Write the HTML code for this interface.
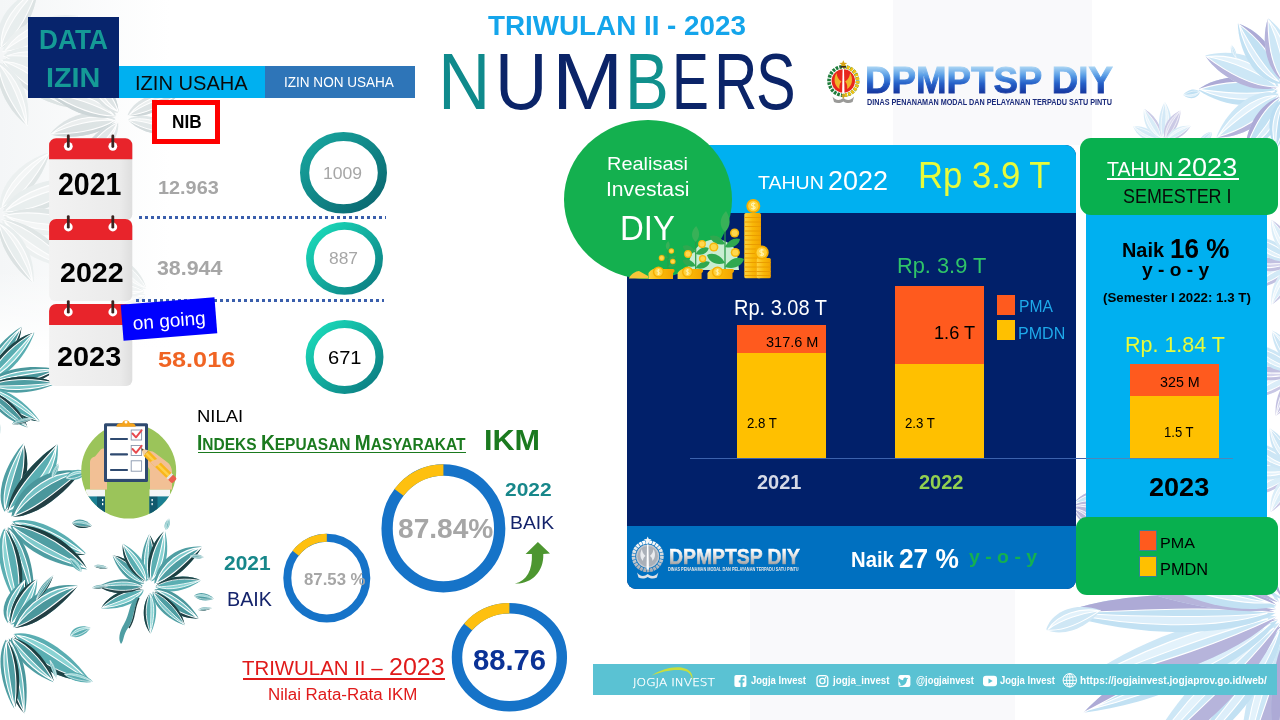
<!DOCTYPE html>
<html lang="id"><head><meta charset="utf-8"><title>Numbers Triwulan II 2023 - DPMPTSP DIY</title>
<style>
html,body{margin:0;padding:0;background:#fff;}
#page{will-change:transform;position:relative;width:1280px;height:720px;overflow:hidden;background:#fff;font-family:"Liberation Sans",sans-serif;}
.t{position:absolute;white-space:nowrap;line-height:1;transform-origin:0 0;display:block;}
.b{position:absolute;}
svg{position:absolute;overflow:visible;}

</style></head>
<body>
<div id="page">
<svg width="1280" height="720" viewBox="0 0 1280 720" style="left:0;top:0"><defs><linearGradient id="bgl" x1="0" x2="1" y1="0" y2="0"><stop offset="0" stop-color="#f4f6f7"/><stop offset="1" stop-color="#fff"/></linearGradient><linearGradient id="bgm" x1="0" x2="0" y1="0" y2="1"><stop offset="0" stop-color="#fff"/><stop offset="1" stop-color="#f1f2f4"/></linearGradient></defs><rect x="0" y="0" width="170" height="350" fill="url(#bgl)"/><linearGradient id="bgf" x1="0" x2="0" y1="0" y2="1"><stop offset="0" stop-color="#fff" stop-opacity="0"/><stop offset="1" stop-color="#fff"/></linearGradient><rect x="0" y="270" width="170" height="81" fill="url(#bgf)"/><rect x="750" y="590" width="265" height="130" fill="#f9f9fb"/><rect x="893" y="0" width="199" height="145" fill="#f9f9fb"/><g opacity="0.8"><g transform="translate(-5 55) rotate(-55)"><path d="M8 0C23.4 -20.5 55.6 -19.9 78 -2.9C62.6 7.1 29 15.5 8 0Z" fill="#e6ecec"/><path d="M10.8 0C29 -13.9 55.6 -13.3 75.9 -2.9C55.6 -6.9 29 -6.5 10.8 0Z" fill="#f1f4f4"/><path d="M8 0C29 15.5 62.6 7.1 78 -2.9C58.4 1.9 30.4 8.5 8 0Z" fill="#d6dede"/><path d="M10.8 0C29 -13.9 55.6 -13.3 75.9 -2.9M10.8 0C29 -6.5 55.6 -6.9 75.9 -2.9M8 0C30.4 8.5 58.4 1.9 78 -2.9" fill="none" stroke="#fff" stroke-width="1.1"/></g><g transform="translate(-5 55) rotate(-25)"><path d="M8 0C26.7 -20.7 65.8 -18.3 93 0.4C74.3 11.4 33.5 18.9 8 0Z" fill="#eaefef"/><path d="M11.4 0C33.5 -13.5 65.8 -11.1 90.5 0.4C65.8 -4 33.5 -5.3 11.4 0Z" fill="#f4f6f6"/><path d="M8 0C33.5 18.9 74.3 11.4 93 0.4C69.2 5.6 35.2 11.2 8 0Z" fill="#dbe2e2"/><path d="M11.4 0C33.5 -13.5 65.8 -11.1 90.5 0.4M11.4 0C33.5 -5.3 65.8 -4 90.5 0.4M8 0C35.2 11.2 69.2 5.6 93 0.4" fill="none" stroke="#fff" stroke-width="1.1"/></g><g transform="translate(-5 55) rotate(5)"><path d="M8 0C27.8 -18.7 69.2 -14.3 98 4.4C78.2 15.4 35 20.9 8 0Z" fill="#e6ecec"/><path d="M11.6 0C35 -11.4 69.2 -7 95.3 4.4C69.2 0 35 -3.3 11.6 0Z" fill="#f1f4f4"/><path d="M8 0C35 20.9 78.2 15.4 98 4.4C72.8 9.7 36.8 13.2 8 0Z" fill="#d6dede"/><path d="M11.6 0C35 -11.4 69.2 -7 95.3 4.4M11.6 0C35 -3.3 69.2 0 95.3 4.4M8 0C36.8 13.2 72.8 9.7 98 4.4" fill="none" stroke="#fff" stroke-width="1.1"/></g><g transform="translate(-5 55) rotate(35)"><path d="M8 0C26.7 -20.3 65.8 -18.5 93 -0.7C74.3 9.8 33.5 17.5 8 0Z" fill="#e6ecec"/><path d="M11.4 0C33.5 -13.4 65.8 -11.6 90.5 -0.7C65.8 -4.9 33.5 -5.6 11.4 0Z" fill="#f1f4f4"/><path d="M8 0C33.5 17.5 74.3 9.8 93 -0.7C69.2 4.4 35.2 10.2 8 0Z" fill="#d6dede"/><path d="M11.4 0C33.5 -13.4 65.8 -11.6 90.5 -0.7M11.4 0C33.5 -5.6 65.8 -4.9 90.5 -0.7M8 0C35.2 10.2 69.2 4.4 93 -0.7" fill="none" stroke="#fff" stroke-width="1.1"/></g><g transform="translate(-5 55) rotate(65)"><path d="M8 0C23.4 -16.9 55.6 -14.9 78 0.4C62.6 9.4 29 15.5 8 0Z" fill="#e6ecec"/><path d="M10.8 0C29 -10.9 55.6 -8.9 75.9 0.4C55.6 -3.2 29 -4.3 10.8 0Z" fill="#f1f4f4"/><path d="M8 0C29 15.5 62.6 9.4 78 0.4C58.4 4.7 30.4 9.2 8 0Z" fill="#d6dede"/><path d="M10.8 0C29 -10.9 55.6 -8.9 75.9 0.4M10.8 0C29 -4.3 55.6 -3.2 75.9 0.4M8 0C30.4 9.2 58.4 4.7 78 0.4" fill="none" stroke="#fff" stroke-width="1.1"/></g></g><g opacity="0.85"><g transform="translate(122 118) rotate(165)"><path d="M6 0C21 18.6 52.2 18.4 74 3.1C59 -5.9 26.4 -13.8 6 0Z" fill="#d9e0e1"/><path d="M8.7 0C26.4 12.7 52.2 12.4 72 3.1C52.2 6.7 26.4 6 8.7 0Z" fill="#e9eded"/><path d="M6 0C26.4 -13.8 59 -5.9 74 3.1C55 -1.3 27.8 -7.5 6 0Z" fill="#c6d0d2"/><path d="M8.7 0C26.4 12.7 52.2 12.4 72 3.1M8.7 0C26.4 6 52.2 6.7 72 3.1M6 0C27.8 -7.5 55 -1.3 74 3.1" fill="none" stroke="#fff" stroke-width="1.1"/></g><g transform="translate(122 118) rotate(200)"><path d="M6 0C21.8 16.7 55 14.6 78 -0.7C62.2 -9.7 27.6 -15.7 6 0Z" fill="#d9e0e1"/><path d="M8.9 0C27.6 10.8 55 8.6 75.8 -0.7C55 2.9 27.6 4.1 8.9 0Z" fill="#e9eded"/><path d="M6 0C27.6 -15.7 62.2 -9.7 78 -0.7C57.8 -5 29 -9.4 6 0Z" fill="#c6d0d2"/><path d="M8.9 0C27.6 10.8 55 8.6 75.8 -0.7M8.9 0C27.6 4.1 55 2.9 75.8 -0.7M6 0C29 -9.4 57.8 -5 78 -0.7" fill="none" stroke="#fff" stroke-width="1.1"/></g><g transform="translate(122 118) rotate(235)"><path d="M6 0C18.8 -14.6 45.4 -13.5 64 -0.7C51.2 6.8 23.4 12.4 6 0Z" fill="#d9e0e1"/><path d="M8.3 0C23.4 -9.7 45.4 -8.5 62.3 -0.7C45.4 -3.7 23.4 -4.1 8.3 0Z" fill="#e9eded"/><path d="M6 0C23.4 12.4 51.2 6.8 64 -0.7C47.8 2.9 24.6 7.1 6 0Z" fill="#c6d0d2"/><path d="M8.3 0C23.4 -9.7 45.4 -8.5 62.3 -0.7M8.3 0C23.4 -4.1 45.4 -3.7 62.3 -0.7M6 0C24.6 7.1 47.8 2.9 64 -0.7" fill="none" stroke="#fff" stroke-width="1.1"/></g><g transform="translate(122 118) rotate(130)"><path d="M6 0C19.2 -13.9 46.8 -11 66 2.6C52.8 10.6 24 14.9 6 0Z" fill="#dde4e5"/><path d="M8.4 0C24 -8.6 46.8 -5.7 64.2 2.6C46.8 -0.6 24 -2.7 8.4 0Z" fill="#ecf0f0"/><path d="M6 0C24 14.9 52.8 10.6 66 2.6C49.2 6.4 25.2 9.3 6 0Z" fill="#ccd5d7"/><path d="M8.4 0C24 -8.6 46.8 -5.7 64.2 2.6M8.4 0C24 -2.7 46.8 -0.6 64.2 2.6M6 0C25.2 9.3 49.2 6.4 66 2.6" fill="none" stroke="#fff" stroke-width="1.1"/></g><g transform="translate(122 118) rotate(15)"><path d="M6 0C17.4 -12.2 41.4 -10.8 58 0.3C46.6 6.8 21.6 11.2 6 0Z" fill="#dde4e5"/><path d="M8.1 0C21.6 -7.9 41.4 -6.5 56.4 0.3C41.4 -2.3 21.6 -3.1 8.1 0Z" fill="#ecf0f0"/><path d="M6 0C21.6 11.2 46.6 6.8 58 0.3C43.4 3.4 22.6 6.6 6 0Z" fill="#ccd5d7"/><path d="M8.1 0C21.6 -7.9 41.4 -6.5 56.4 0.3M8.1 0C21.6 -3.1 41.4 -2.3 56.4 0.3M6 0C22.6 6.6 43.4 3.4 58 0.3" fill="none" stroke="#fff" stroke-width="0.9"/></g><g transform="translate(122 118) rotate(-25)"><path d="M6 0C18.8 -12.7 45.4 -10.6 64 1.3C51.2 8.3 23.4 12.5 6 0Z" fill="#d9e0e1"/><path d="M8.3 0C23.4 -8 45.4 -6 62.3 1.3C45.4 -1.5 23.4 -2.9 8.3 0Z" fill="#e9eded"/><path d="M6 0C23.4 12.5 51.2 8.3 64 1.3C47.8 4.6 24.6 7.6 6 0Z" fill="#c6d0d2"/><path d="M8.3 0C23.4 -8 45.4 -6 62.3 1.3M8.3 0C23.4 -2.9 45.4 -1.5 62.3 1.3M6 0C24.6 7.6 47.8 4.6 64 1.3" fill="none" stroke="#fff" stroke-width="1"/></g></g><g opacity="0.8"><g transform="translate(-5 215) rotate(-50)"><path d="M8 0C24.5 -17.4 59 -14.9 83 1.3C66.5 10.8 30.5 16.8 8 0Z" fill="#eaefef"/><path d="M11 0C30.5 -11.2 59 -8.6 80.8 1.3C59 -2.5 30.5 -4.1 11 0Z" fill="#f4f6f6"/><path d="M8 0C30.5 16.8 66.5 10.8 83 1.3C62 5.8 32 10.1 8 0Z" fill="#dbe2e2"/><path d="M11 0C30.5 -11.2 59 -8.6 80.8 1.3M11 0C30.5 -4.1 59 -2.5 80.8 1.3M8 0C32 10.1 62 5.8 83 1.3" fill="none" stroke="#fff" stroke-width="1.1"/></g><g transform="translate(-5 215) rotate(-22)"><path d="M8 0C27.8 -19.8 69.2 -16.4 98 2.3C78.2 13.3 35 19.8 8 0Z" fill="#e6ecec"/><path d="M11.6 0C35 -12.5 69.2 -9.1 95.3 2.3C69.2 -2.1 35 -4.4 11.6 0Z" fill="#f1f4f4"/><path d="M8 0C35 19.8 78.2 13.3 98 2.3C72.8 7.6 36.8 12.1 8 0Z" fill="#d6dede"/><path d="M11.6 0C35 -12.5 69.2 -9.1 95.3 2.3M11.6 0C35 -4.4 69.2 -2.1 95.3 2.3M8 0C36.8 12.1 72.8 7.6 98 2.3" fill="none" stroke="#fff" stroke-width="1.1"/></g><g transform="translate(-5 215) rotate(6)"><path d="M8 0C28.2 20.9 70.6 18.7 100 0C79.8 -11 35.6 -18.7 8 0Z" fill="#eaefef"/><path d="M11.7 0C35.6 13.7 70.6 11.5 97.2 0C70.6 4.4 35.6 5.5 11.7 0Z" fill="#f4f6f6"/><path d="M8 0C35.6 -18.7 79.8 -11 100 0C74.2 -5.2 37.4 -11 8 0Z" fill="#dbe2e2"/><path d="M11.7 0C35.6 13.7 70.6 11.5 97.2 0M11.7 0C35.6 5.5 70.6 4.4 97.2 0M8 0C37.4 -11 74.2 -5.2 100 0" fill="none" stroke="#fff" stroke-width="1.1"/></g><g transform="translate(-5 215) rotate(34)"><path d="M8 0C26.9 19.2 66.5 17.4 94 0.4C75.1 -9.6 33.8 -16.8 8 0Z" fill="#eaefef"/><path d="M11.4 0C33.8 12.6 66.5 10.8 91.4 0.4C66.5 4.4 33.8 5.2 11.4 0Z" fill="#f4f6f6"/><path d="M8 0C33.8 -16.8 75.1 -9.6 94 0.4C69.9 -4.4 35.5 -9.8 8 0Z" fill="#dbe2e2"/><path d="M11.4 0C33.8 12.6 66.5 10.8 91.4 0.4M11.4 0C33.8 5.2 66.5 4.4 91.4 0.4M8 0C35.5 -9.8 69.9 -4.4 94 0.4" fill="none" stroke="#fff" stroke-width="1.1"/></g><g transform="translate(-5 215) rotate(62)"><path d="M8 0C23.4 -17.2 55.6 -16.6 78 -2.1C62.6 6.4 29 13.4 8 0Z" fill="#e6ecec"/><path d="M10.8 0C29 -11.6 55.6 -11 75.9 -2.1C55.6 -5.5 29 -5.3 10.8 0Z" fill="#f1f4f4"/><path d="M8 0C29 13.4 62.6 6.4 78 -2.1C58.4 2 30.4 7.4 8 0Z" fill="#d6dede"/><path d="M10.8 0C29 -11.6 55.6 -11 75.9 -2.1M10.8 0C29 -5.3 55.6 -5.5 75.9 -2.1M8 0C30.4 7.4 58.4 2 78 -2.1" fill="none" stroke="#fff" stroke-width="1.1"/></g></g><g opacity="0.6"><g transform="translate(150 292) rotate(150)"><path d="M5 0C16 13.1 39 12.6 55 1.5C44 -5 20 -10.3 5 0Z" fill="#eaefef"/><path d="M7 0C20 8.8 39 8.3 53.5 1.5C39 4.1 20 4 7 0Z" fill="#f4f6f6"/><path d="M5 0C20 -10.3 44 -5 55 1.5C41 -1.6 21 -5.7 5 0Z" fill="#dbe2e2"/><path d="M7 0C20 8.8 39 8.3 53.5 1.5M7 0C20 4 39 4.1 53.5 1.5M5 0C21 -5.7 41 -1.6 55 1.5" fill="none" stroke="#fff" stroke-width="0.9"/></g><g transform="translate(150 292) rotate(185)"><path d="M5 0C17.8 -12 44.4 -9.3 63 2.6C50.2 9.6 22.4 13.2 5 0Z" fill="#eaefef"/><path d="M7.3 0C22.4 -7.4 44.4 -4.7 61.3 2.6C44.4 -0.2 22.4 -2.2 7.3 0Z" fill="#f4f6f6"/><path d="M5 0C22.4 13.2 50.2 9.6 63 2.6C46.8 6 23.6 8.3 5 0Z" fill="#dbe2e2"/><path d="M7.3 0C22.4 -7.4 44.4 -4.7 61.3 2.6M7.3 0C22.4 -2.2 44.4 -0.2 61.3 2.6M5 0C23.6 8.3 46.8 6 63 2.6" fill="none" stroke="#fff" stroke-width="1"/></g><g transform="translate(150 292) rotate(220)"><path d="M5 0C16.4 -10.9 40.4 -8.1 57 3C45.6 9.5 20.6 12.5 5 0Z" fill="#e6ecec"/><path d="M7.1 0C20.6 -6.6 40.4 -3.8 55.4 3C40.4 0.4 20.6 -1.8 7.1 0Z" fill="#f1f4f4"/><path d="M5 0C20.6 12.5 45.6 9.5 57 3C42.4 6.1 21.6 8 5 0Z" fill="#d6dede"/><path d="M7.1 0C20.6 -6.6 40.4 -3.8 55.4 3M7.1 0C20.6 -1.8 40.4 0.4 55.4 3M5 0C21.6 8 42.4 6.1 57 3" fill="none" stroke="#fff" stroke-width="0.9"/></g></g><g transform="translate(-18 385) rotate(-62)"><path d="M8 0C21.6 -9.6 50.2 -4.5 70 7.4C56.4 14.4 26.6 15.6 8 0Z" fill="#4f9ea3"/><path d="M10.5 0C26.6 -5 50.2 0.2 68.1 7.4C50.2 4.6 26.6 0.2 10.5 0Z" fill="#7fc9cb"/><path d="M8 0C26.6 15.6 56.4 14.4 70 7.4C52.6 10.8 27.8 10.7 8 0Z" fill="#1d3f42"/><path d="M10.5 0C26.6 -5 50.2 0.2 68.1 7.4M10.5 0C26.6 0.2 50.2 4.6 68.1 7.4M8 0C27.8 10.7 52.6 10.8 70 7.4" fill="none" stroke="#fff" stroke-width="1"/></g><g transform="translate(-18 385) rotate(-40)"><path d="M8 0C22.5 10.9 52.9 6.1 74 -6.6C59.5 -14.1 27.8 -16.1 8 0Z" fill="#5aaeb2"/><path d="M10.6 0C27.8 6 52.9 1.2 72 -6.6C52.9 -3.6 27.8 0.4 10.6 0Z" fill="#8ad3d3"/><path d="M8 0C27.8 -16.1 59.5 -14.1 74 -6.6C55.5 -10.2 29.1 -10.8 8 0Z" fill="#1f4447"/><path d="M10.6 0C27.8 6 52.9 1.2 72 -6.6M10.6 0C27.8 0.4 52.9 -3.6 72 -6.6M8 0C29.1 -10.8 55.5 -10.2 74 -6.6" fill="none" stroke="#fff" stroke-width="1.1"/></g><g transform="translate(-18 385) rotate(-18)"><path d="M8 0C23 -10.2 54.2 -4.6 76 8.2C61 15.7 28.4 16.8 8 0Z" fill="#4a979c"/><path d="M10.7 0C28.4 -5.2 54.2 0.4 74 8.2C54.2 5.2 28.4 0.3 10.7 0Z" fill="#76c2c5"/><path d="M8 0C28.4 16.8 61 15.7 76 8.2C57 11.8 29.8 11.6 8 0Z" fill="#233f44"/><path d="M10.7 0C28.4 -5.2 54.2 0.4 74 8.2M10.7 0C28.4 0.3 54.2 5.2 74 8.2M8 0C29.8 11.6 57 11.8 76 8.2" fill="none" stroke="#fff" stroke-width="1.1"/></g><g transform="translate(-18 385) rotate(4)"><path d="M8 0C22.5 10 52.9 5.3 74 -6.6C59.5 -13.6 27.8 -15.2 8 0Z" fill="#4f9ea3"/><path d="M10.6 0C27.8 5.4 52.9 0.7 72 -6.6C52.9 -3.8 27.8 0.2 10.6 0Z" fill="#7fc9cb"/><path d="M8 0C27.8 -15.2 59.5 -13.6 74 -6.6C55.5 -10 29.1 -10.3 8 0Z" fill="#1d3f42"/><path d="M10.6 0C27.8 5.4 52.9 0.7 72 -6.6M10.6 0C27.8 0.2 52.9 -3.8 72 -6.6M8 0C29.1 -10.3 55.5 -10 74 -6.6" fill="none" stroke="#fff" stroke-width="1"/></g><g transform="translate(-18 385) rotate(26)"><path d="M8 0C21.2 -8.8 48.8 -3.8 68 7.2C54.8 13.7 26 14.6 8 0Z" fill="#5aaeb2"/><path d="M10.4 0C26 -4.5 48.8 0.4 66.2 7.2C48.8 4.6 26 0.3 10.4 0Z" fill="#8ad3d3"/><path d="M8 0C26 14.6 54.8 13.7 68 7.2C51.2 10.3 27.2 10.1 8 0Z" fill="#1f4447"/><path d="M10.4 0C26 -4.5 48.8 0.4 66.2 7.2M10.4 0C26 0.3 48.8 4.6 66.2 7.2M8 0C27.2 10.1 51.2 10.3 68 7.2" fill="none" stroke="#fff" stroke-width="0.9"/></g><g transform="translate(-18 385) rotate(48)"><path d="M8 0C19.9 8.7 44.7 4.8 62 -5.4C50.1 -11.4 24.2 -12.9 8 0Z" fill="#4a979c"/><path d="M10.2 0C24.2 4.7 44.7 0.8 60.4 -5.4C44.7 -3 24.2 0.3 10.2 0Z" fill="#76c2c5"/><path d="M8 0C24.2 -12.9 50.1 -11.4 62 -5.4C46.9 -8.3 25.3 -8.7 8 0Z" fill="#233f44"/><path d="M10.2 0C24.2 4.7 44.7 0.8 60.4 -5.4M10.2 0C24.2 0.3 44.7 -3 60.4 -5.4M8 0C25.3 -8.7 46.9 -8.3 62 -5.4" fill="none" stroke="#fff" stroke-width="0.8"/></g><g transform="translate(-18 385) rotate(68)"><path d="M8 0C18.6 -8.5 40.6 -5.5 56 3.8C45.4 9.3 22.4 11.3 8 0Z" fill="#4f9ea3"/><path d="M9.9 0C22.4 -4.9 40.6 -1.9 54.6 3.8C40.6 1.6 22.4 -0.8 9.9 0Z" fill="#7fc9cb"/><path d="M8 0C22.4 11.3 45.4 9.3 56 3.8C42.6 6.5 23.4 7.4 8 0Z" fill="#1d3f42"/><path d="M9.9 0C22.4 -4.9 40.6 -1.9 54.6 3.8M9.9 0C22.4 -0.8 40.6 1.6 54.6 3.8M8 0C23.4 7.4 42.6 6.5 56 3.8" fill="none" stroke="#fff" stroke-width="0.8"/></g><g transform="translate(4 520) rotate(-84)"><path d="M8 0C23.4 -12.4 55.6 -4.9 78 11.2C62.6 20.7 29 21.8 8 0Z" fill="#4f9ea3"/><path d="M10.8 0C29 -6.2 55.6 1.3 75.9 11.2C55.6 7.4 29 0.9 10.8 0Z" fill="#7fc9cb"/><path d="M8 0C29 21.8 62.6 20.7 78 11.2C58.4 15.8 30.4 15.1 8 0Z" fill="#1d3f42"/><path d="M10.8 0C29 -6.2 55.6 1.3 75.9 11.2M10.8 0C29 0.9 55.6 7.4 75.9 11.2M8 0C30.4 15.1 58.4 15.8 78 11.2" fill="none" stroke="#fff" stroke-width="1.1"/></g><g transform="translate(4 520) rotate(-62)"><path d="M8 0C26.5 25.8 65.1 29.6 92 11.8C73.5 1.3 33.2 -12 8 0Z" fill="#5aaeb2"/><path d="M11.4 0C33.2 18.9 65.1 22.7 89.5 11.8C65.1 16 33.2 11.1 11.4 0Z" fill="#8ad3d3"/><path d="M8 0C33.2 -12 73.5 1.3 92 11.8C68.5 6.7 34.9 -4.6 8 0Z" fill="#1f4447"/><path d="M11.4 0C33.2 18.9 65.1 22.7 89.5 11.8M11.4 0C33.2 11.1 65.1 16 89.5 11.8M8 0C34.9 -4.6 68.5 6.7 92 11.8" fill="none" stroke="#fff" stroke-width="1.1"/></g><g transform="translate(4 520) rotate(-24)"><path d="M8 0C26 -27.5 63.8 -31.8 90 -13.1C72 -2.1 32.6 12.1 8 0Z" fill="#4a979c"/><path d="M11.3 0C32.6 -20.2 63.8 -24.6 87.5 -13.1C63.8 -17.5 32.6 -12.1 11.3 0Z" fill="#76c2c5"/><path d="M8 0C32.6 12.1 72 -2.1 90 -13.1C67 -7.8 34.2 4.4 8 0Z" fill="#233f44"/><path d="M11.3 0C32.6 -20.2 63.8 -24.6 87.5 -13.1M11.3 0C32.6 -12.1 63.8 -17.5 87.5 -13.1M8 0C34.2 4.4 67 -7.8 90 -13.1" fill="none" stroke="#fff" stroke-width="1.1"/></g><g transform="translate(4 520) rotate(14)"><path d="M8 0C25.6 -12.6 62.4 -4.2 88 12.8C70.4 22.8 32 23.4 8 0Z" fill="#5aaeb2"/><path d="M11.2 0C32 -6 62.4 2.4 85.6 12.8C62.4 8.8 32 1.4 11.2 0Z" fill="#8ad3d3"/><path d="M8 0C32 23.4 70.4 22.8 88 12.8C65.6 17.6 33.6 16.4 8 0Z" fill="#1f4447"/><path d="M11.2 0C32 -6 62.4 2.4 85.6 12.8M11.2 0C32 1.4 62.4 8.8 85.6 12.8M8 0C33.6 16.4 65.6 17.6 88 12.8" fill="none" stroke="#fff" stroke-width="1.1"/></g><g transform="translate(4 520) rotate(38)"><path d="M8 0C27.4 13.8 67.8 5.5 96 -12.3C76.6 -22.8 34.4 -24 8 0Z" fill="#4f9ea3"/><path d="M11.5 0C34.4 6.9 67.8 -1.4 93.4 -12.3C67.8 -8.1 34.4 -0.9 11.5 0Z" fill="#7fc9cb"/><path d="M8 0C34.4 -24 76.6 -22.8 96 -12.3C71.4 -17.4 36.2 -16.7 8 0Z" fill="#1d3f42"/><path d="M11.5 0C34.4 6.9 67.8 -1.4 93.4 -12.3M11.5 0C34.4 -0.9 67.8 -8.1 93.4 -12.3M8 0C36.2 -16.7 71.4 -17.4 96 -12.3" fill="none" stroke="#fff" stroke-width="1.1"/></g><g transform="translate(4 520) rotate(62)"><path d="M8 0C24.3 -11.9 58.3 -4.9 82 10.4C65.7 19.4 30.2 20.5 8 0Z" fill="#4a979c"/><path d="M11 0C30.2 -6 58.3 1 79.8 10.4C58.3 6.8 30.2 0.7 11 0Z" fill="#76c2c5"/><path d="M8 0C30.2 20.5 65.7 19.4 82 10.4C61.3 14.7 31.7 14.2 8 0Z" fill="#233f44"/><path d="M11 0C30.2 -6 58.3 1 79.8 10.4M11 0C30.2 0.7 58.3 6.8 79.8 10.4M8 0C31.7 14.2 61.3 14.7 82 10.4" fill="none" stroke="#fff" stroke-width="1.1"/></g><g transform="translate(4 520) rotate(86)"><path d="M8 0C25.2 13.2 61 7.5 86 -7.8C68.8 -16.8 31.4 -19.2 8 0Z" fill="#5aaeb2"/><path d="M11.1 0C31.4 7.3 61 1.6 83.7 -7.8C61 -4.2 31.4 0.6 11.1 0Z" fill="#8ad3d3"/><path d="M8 0C31.4 -19.2 68.8 -16.8 86 -7.8C64.2 -12.1 33 -12.9 8 0Z" fill="#1f4447"/><path d="M11.1 0C31.4 7.3 61 1.6 83.7 -7.8M11.1 0C31.4 0.6 61 -4.2 83.7 -7.8M8 0C33 -12.9 64.2 -12.1 86 -7.8" fill="none" stroke="#fff" stroke-width="1.1"/></g><g transform="translate(66 478) rotate(-15)"><path d="M0 0C4.8 -7.6 15 -6.8 22 0C17.2 4 6.6 6.8 0 0Z" fill="#5aaeb2"/><path d="M0.9 0C6.6 -5 15 -4.2 21.3 0C15 -1.6 6.6 -2 0.9 0Z" fill="#8ad3d3"/><path d="M0.9 0C6.6 -5 15 -4.2 21.3 0M0.9 0C6.6 -2 15 -1.6 21.3 0M0 0C7 4 15.8 1.9 22 0" fill="none" stroke="#fff" stroke-width="0.6"/></g><g transform="translate(72 523) rotate(8)"><path d="M0 0C4.4 -6.6 13.6 -6 20 0C15.6 3.5 6 6 0 0Z" fill="#4f9ea3"/><path d="M0.8 0C6 -4.3 13.6 -3.6 19.4 0C13.6 -1.4 6 -1.8 0.8 0Z" fill="#7fc9cb"/><path d="M0 0C6 6 15.6 3.5 20 0C14.4 1.7 6.4 3.5 0 0Z" fill="#1d3f42"/><path d="M0.8 0C6 -4.3 13.6 -3.6 19.4 0M0.8 0C6 -1.8 13.6 -1.4 19.4 0M0 0C6.4 3.5 14.4 1.7 20 0" fill="none" stroke="#fff" stroke-width="0.5"/></g><g transform="translate(94 566) rotate(8)"><path d="M0 0C3.1 -2.8 9.5 -2.5 14 0C10.9 1.5 4.2 2.5 0 0Z" fill="#4f9ea3"/><path d="M0 0C4.2 2.5 10.9 1.5 14 0C10.1 0.7 4.5 1.5 0 0Z" fill="#1d3f42"/><path d="M0.6 0C4.2 -1.9 9.5 -1.6 13.6 0M0.6 0C4.2 -0.8 9.5 -0.6 13.6 0M0 0C4.5 1.5 10.1 0.7 14 0" fill="none" stroke="#fff" stroke-width="0.5"/></g><g transform="translate(70 558) rotate(50)"><path d="M0 0C4 -5.7 12.2 -5.1 18 0C14 3 5.4 5.1 0 0Z" fill="#5aaeb2"/><path d="M0.7 0C5.4 -3.7 12.2 -3.1 17.5 0C12.2 -1.2 5.4 -1.5 0.7 0Z" fill="#8ad3d3"/><path d="M0.7 0C5.4 -3.7 12.2 -3.1 17.5 0M0.7 0C5.4 -1.5 12.2 -1.2 17.5 0M0 0C5.8 3 13 1.4 18 0" fill="none" stroke="#fff" stroke-width="0.5"/></g><g transform="translate(12 424) rotate(-15)"><path d="M0 0C4.8 -3.8 15 -3.4 22 0C17.2 2 6.6 3.4 0 0Z" fill="#4f9ea3"/><path d="M0 0C6.6 3.4 17.2 2 22 0C15.8 1 7 2 0 0Z" fill="#1d3f42"/><path d="M0.9 0C6.6 -2.5 15 -2.1 21.3 0M0.9 0C6.6 -1 15 -0.8 21.3 0M0 0C7 2 15.8 1 22 0" fill="none" stroke="#fff" stroke-width="0.5"/></g><g transform="translate(52 478) rotate(-65)"><path d="M0 0C3.5 -3.8 10.9 -3.4 16 0C12.5 2 4.8 3.4 0 0Z" fill="#62b3b6"/><path d="M0.6 0C4.8 -2.5 10.9 -2.1 15.5 0M0.6 0C4.8 -1 10.9 -0.8 15.5 0M0 0C5.1 2 11.5 1 16 0" fill="none" stroke="#fff" stroke-width="0.5"/></g><g transform="translate(149 587) rotate(-98)"><path d="M6 0C16.1 -8.7 37.3 -3.7 52 7.4C41.9 13.9 19.8 14.7 6 0Z" fill="#4f9ea3"/><path d="M7.8 0C19.8 -4.4 37.3 0.6 50.6 7.4C37.3 4.8 19.8 0.4 7.8 0Z" fill="#7fc9cb"/><path d="M6 0C19.8 14.7 41.9 13.9 52 7.4C39.1 10.5 20.7 10.2 6 0Z" fill="#1d3f42"/><path d="M7.8 0C19.8 -4.4 37.3 0.6 50.6 7.4M7.8 0C19.8 0.4 37.3 4.8 50.6 7.4M6 0C20.7 10.2 39.1 10.5 52 7.4" fill="none" stroke="#fff" stroke-width="0.9"/></g><g transform="translate(149 587) rotate(-68)"><path d="M6 0C17.4 11.1 41.4 6.5 58 -6.2C46.6 -13.7 21.6 -15.9 6 0Z" fill="#5aaeb2"/><path d="M8.1 0C21.6 6.2 41.4 1.6 56.4 -6.2C41.4 -3.2 21.6 0.6 8.1 0Z" fill="#8ad3d3"/><path d="M6 0C21.6 -15.9 46.6 -13.7 58 -6.2C43.4 -9.8 22.6 -10.6 6 0Z" fill="#1f4447"/><path d="M8.1 0C21.6 6.2 41.4 1.6 56.4 -6.2M8.1 0C21.6 0.6 41.4 -3.2 56.4 -6.2M6 0C22.6 -10.6 43.4 -9.8 58 -6.2" fill="none" stroke="#fff" stroke-width="1.1"/></g><g transform="translate(149 587) rotate(-30)"><path d="M6 0C19.2 -19.4 46.8 -22 66 -8.4C52.8 -0.4 24 9.4 6 0Z" fill="#4f9ea3"/><path d="M8.4 0C24 -14.1 46.8 -16.7 64.2 -8.4C46.8 -11.6 24 -8.2 8.4 0Z" fill="#7fc9cb"/><path d="M6 0C24 9.4 52.8 -0.4 66 -8.4C49.2 -4.6 25.2 3.8 6 0Z" fill="#1d3f42"/><path d="M8.4 0C24 -14.1 46.8 -16.7 64.2 -8.4M8.4 0C24 -8.2 46.8 -11.6 64.2 -8.4M6 0C25.2 3.8 49.2 -4.6 66 -8.4" fill="none" stroke="#fff" stroke-width="1.1"/></g><g transform="translate(149 587) rotate(-2)"><path d="M6 0C16.1 9.1 37.3 5.6 52 -4.6C41.9 -10.6 19.8 -12.5 6 0Z" fill="#5aaeb2"/><path d="M7.8 0C19.8 5.1 37.3 1.6 50.6 -4.6C37.3 -2.2 19.8 0.7 7.8 0Z" fill="#8ad3d3"/><path d="M6 0C19.8 -12.5 41.9 -10.6 52 -4.6C39.1 -7.5 20.7 -8.3 6 0Z" fill="#1f4447"/><path d="M7.8 0C19.8 5.1 37.3 1.6 50.6 -4.6M7.8 0C19.8 0.7 37.3 -2.2 50.6 -4.6M6 0C20.7 -8.3 39.1 -7.5 52 -4.6" fill="none" stroke="#fff" stroke-width="0.8"/></g><g transform="translate(149 587) rotate(24)"><path d="M6 0C17.4 -9.1 41.4 -3.6 58 8.3C46.6 15.3 21.6 16.1 6 0Z" fill="#4a979c"/><path d="M8.1 0C21.6 -4.5 41.4 1 56.4 8.3C41.4 5.5 21.6 0.7 8.1 0Z" fill="#76c2c5"/><path d="M6 0C21.6 16.1 46.6 15.3 58 8.3C43.4 11.7 22.6 11.2 6 0Z" fill="#233f44"/><path d="M8.1 0C21.6 -4.5 41.4 1 56.4 8.3M8.1 0C21.6 0.7 41.4 5.5 56.4 8.3M6 0C22.6 11.2 43.4 11.7 58 8.3" fill="none" stroke="#fff" stroke-width="1"/></g><g transform="translate(149 587) rotate(52)"><path d="M6 0C16.1 9.1 37.3 5.6 52 -4.6C41.9 -10.6 19.8 -12.5 6 0Z" fill="#4f9ea3"/><path d="M7.8 0C19.8 5.1 37.3 1.6 50.6 -4.6C37.3 -2.2 19.8 0.7 7.8 0Z" fill="#7fc9cb"/><path d="M6 0C19.8 -12.5 41.9 -10.6 52 -4.6C39.1 -7.5 20.7 -8.3 6 0Z" fill="#1d3f42"/><path d="M7.8 0C19.8 5.1 37.3 1.6 50.6 -4.6M7.8 0C19.8 0.7 37.3 -2.2 50.6 -4.6M6 0C20.7 -8.3 39.1 -7.5 52 -4.6" fill="none" stroke="#fff" stroke-width="0.8"/></g><g transform="translate(149 587) rotate(80)"><path d="M6 0C14.8 -7.2 33.2 -2.9 46 6.4C37.2 11.9 18 12.6 6 0Z" fill="#5aaeb2"/><path d="M7.6 0C18 -3.6 33.2 0.7 44.8 6.4C33.2 4.2 18 0.5 7.6 0Z" fill="#8ad3d3"/><path d="M6 0C18 12.6 37.2 11.9 46 6.4C34.8 9 18.8 8.7 6 0Z" fill="#1f4447"/><path d="M7.6 0C18 -3.6 33.2 0.7 44.8 6.4M7.6 0C18 0.5 33.2 4.2 44.8 6.4M6 0C18.8 8.7 34.8 9 46 6.4" fill="none" stroke="#fff" stroke-width="0.8"/></g><g transform="translate(149 587) rotate(150)"><path d="M6 0C16.1 -9.6 37.3 -5.5 52 5.5C41.9 12 19.8 13.8 6 0Z" fill="#5aaeb2"/><path d="M7.8 0C19.8 -5.3 37.3 -1.2 50.6 5.5C37.3 2.9 19.8 -0.5 7.8 0Z" fill="#8ad3d3"/><path d="M6 0C19.8 13.8 41.9 12 52 5.5C39.1 8.6 20.7 9.3 6 0Z" fill="#1f4447"/><path d="M7.8 0C19.8 -5.3 37.3 -1.2 50.6 5.5M7.8 0C19.8 -0.5 37.3 2.9 50.6 5.5M6 0C20.7 9.3 39.1 8.6 52 5.5" fill="none" stroke="#fff" stroke-width="0.9"/></g><g transform="translate(149 587) rotate(186)"><path d="M6 0C15.7 9.2 35.9 5.8 50 -4.4C40.3 -10.4 19.2 -12.4 6 0Z" fill="#4a979c"/><path d="M7.8 0C19.2 5.2 35.9 1.8 48.7 -4.4C35.9 -2 19.2 0.8 7.8 0Z" fill="#76c2c5"/><path d="M6 0C19.2 -12.4 40.3 -10.4 50 -4.4C37.7 -7.3 20.1 -8.2 6 0Z" fill="#233f44"/><path d="M7.8 0C19.2 5.2 35.9 1.8 48.7 -4.4M7.8 0C19.2 0.8 35.9 -2 48.7 -4.4M6 0C20.1 -8.2 37.7 -7.3 50 -4.4" fill="none" stroke="#fff" stroke-width="0.8"/></g><g transform="translate(149 587) rotate(216)"><path d="M6 0C15.2 -9.3 34.6 -6 48 4.2C38.8 10.2 18.6 12.3 6 0Z" fill="#4f9ea3"/><path d="M7.7 0C18.6 -5.3 34.6 -2 46.7 4.2C34.6 1.8 18.6 -0.9 7.7 0Z" fill="#7fc9cb"/><path d="M6 0C18.6 12.3 38.8 10.2 48 4.2C36.2 7.1 19.4 8.1 6 0Z" fill="#1d3f42"/><path d="M7.7 0C18.6 -5.3 34.6 -2 46.7 4.2M7.7 0C18.6 -0.9 34.6 1.8 46.7 4.2M6 0C19.4 8.1 36.2 7.1 48 4.2" fill="none" stroke="#fff" stroke-width="0.8"/></g><g transform="translate(149 587) rotate(246)"><path d="M6 0C15.7 9.3 35.9 4.9 50 -6.2C40.3 -12.7 19.2 -14.1 6 0Z" fill="#5aaeb2"/><path d="M7.8 0C19.2 5 35.9 0.6 48.7 -6.2C35.9 -3.6 19.2 0.2 7.8 0Z" fill="#8ad3d3"/><path d="M6 0C19.2 -14.1 40.3 -12.7 50 -6.2C37.7 -9.3 20.1 -9.6 6 0Z" fill="#1f4447"/><path d="M7.8 0C19.2 5 35.9 0.6 48.7 -6.2M7.8 0C19.2 0.2 35.9 -3.6 48.7 -6.2M6 0C20.1 -9.6 37.7 -9.3 50 -6.2" fill="none" stroke="#fff" stroke-width="0.9"/></g><g transform="translate(166 530) rotate(-75)"><path d="M0 0C2.6 -3.8 8.2 -3.4 12 0C9.4 2 3.6 3.4 0 0Z" fill="#62b3b6"/><path d="M0.5 0C3.6 -2.5 8.2 -2.1 11.6 0M0.5 0C3.6 -1 8.2 -0.8 11.6 0M0 0C3.8 2 8.6 1 12 0" fill="none" stroke="#fff" stroke-width="0.5"/></g><g transform="translate(190 556) rotate(5)"><path d="M0 0C3.1 -3.3 9.5 -3 14 0C10.9 1.8 4.2 3 0 0Z" fill="#4f9ea3"/><path d="M0.6 0C4.2 -2.2 9.5 -1.8 13.6 0M0.6 0C4.2 -0.9 9.5 -0.7 13.6 0M0 0C4.5 1.8 10.1 0.8 14 0" fill="none" stroke="#fff" stroke-width="0.5"/></g><g transform="translate(194 596) rotate(8)"><path d="M0 0C4.4 -5.7 13.6 -5.1 20 0C15.6 3 6 5.1 0 0Z" fill="#4f9ea3"/><path d="M0.8 0C6 -3.7 13.6 -3.1 19.4 0C13.6 -1.2 6 -1.5 0.8 0Z" fill="#7fc9cb"/><path d="M0.8 0C6 -3.7 13.6 -3.1 19.4 0M0.8 0C6 -1.5 13.6 -1.2 19.4 0M0 0C6.4 3 14.4 1.4 20 0" fill="none" stroke="#fff" stroke-width="0.5"/></g><g transform="translate(198 610) rotate(-8)"><path d="M0 0C3.1 -2.8 9.5 -2.5 14 0C10.9 1.5 4.2 2.5 0 0Z" fill="#4f9ea3"/><path d="M0 0C4.2 2.5 10.9 1.5 14 0C10.1 0.7 4.5 1.5 0 0Z" fill="#1d3f42"/><path d="M0.6 0C4.2 -1.9 9.5 -1.6 13.6 0M0.6 0C4.2 -0.8 9.5 -0.6 13.6 0M0 0C4.5 1.5 10.1 0.7 14 0" fill="none" stroke="#fff" stroke-width="0.5"/></g><g transform="translate(92 588) rotate(-8)"><path d="M0 0C3.5 -2.8 10.9 -2.5 16 0C12.5 1.5 4.8 2.5 0 0Z" fill="#4f9ea3"/><path d="M0 0C4.8 2.5 12.5 1.5 16 0C11.5 0.7 5.1 1.5 0 0Z" fill="#1d3f42"/><path d="M0.6 0C4.8 -1.9 10.9 -1.6 15.5 0M0.6 0C4.8 -0.8 10.9 -0.6 15.5 0M0 0C5.1 1.5 11.5 0.7 16 0" fill="none" stroke="#fff" stroke-width="0.5"/></g><path d="M139 598C132 610 135 618 128 628C123 635 124 641 121 644C118 640 119 632 124 624C130 614 128 606 136 597Z" fill="#4f9ea3"/><path d="M139 598C133 610 136 618 129 628" fill="none" stroke="#1d3f42" stroke-width="1.4"/><g transform="translate(6 631) rotate(-76)"><path d="M8 0C18.1 -13.4 39.3 -8.9 54 5.5C43.9 14 21.8 17.2 8 0Z" fill="#4f9ea3"/><path d="M9.8 0C21.8 -7.8 39.3 -3.3 52.6 5.5C39.3 2.1 21.8 -1.5 9.8 0Z" fill="#7fc9cb"/><path d="M8 0C21.8 17.2 43.9 14 54 5.5C41.1 9.6 22.7 11.3 8 0Z" fill="#1d3f42"/><path d="M9.8 0C21.8 -7.8 39.3 -3.3 52.6 5.5M9.8 0C21.8 -1.5 39.3 2.1 52.6 5.5M8 0C22.7 11.3 41.1 9.6 54 5.5" fill="none" stroke="#fff" stroke-width="1.1"/></g><g transform="translate(6 631) rotate(-52)"><path d="M8 0C19.4 10.6 43.4 5.5 60 -7.3C48.6 -14.8 23.6 -16.4 8 0Z" fill="#5aaeb2"/><path d="M10.1 0C23.6 5.7 43.4 0.5 58.4 -7.3C43.4 -4.3 23.6 0.1 10.1 0Z" fill="#8ad3d3"/><path d="M8 0C23.6 -16.4 48.6 -14.8 60 -7.3C45.4 -10.9 24.6 -11.1 8 0Z" fill="#1f4447"/><path d="M10.1 0C23.6 5.7 43.4 0.5 58.4 -7.3M10.1 0C23.6 0.1 43.4 -4.3 58.4 -7.3M8 0C24.6 -11.1 45.4 -10.9 60 -7.3" fill="none" stroke="#fff" stroke-width="1.1"/></g><g transform="translate(6 631) rotate(-24)"><path d="M8 0C24.7 -24.1 59.7 -28.3 84 -12.2C67.3 -2.7 30.8 10.1 8 0Z" fill="#4a979c"/><path d="M11 0C30.8 -17.9 59.7 -22 81.7 -12.2C59.7 -16 30.8 -10.8 11 0Z" fill="#76c2c5"/><path d="M8 0C30.8 10.1 67.3 -2.7 84 -12.2C62.7 -7.6 32.3 3.4 8 0Z" fill="#233f44"/><path d="M11 0C30.8 -17.9 59.7 -22 81.7 -12.2M11 0C30.8 -10.8 59.7 -16 81.7 -12.2M8 0C32.3 3.4 62.7 -7.6 84 -12.2" fill="none" stroke="#fff" stroke-width="1.1"/></g><g transform="translate(6 631) rotate(22)"><path d="M8 0C27.4 -13.9 67.8 -4.6 96 14.1C76.6 25.1 34.4 25.7 8 0Z" fill="#5aaeb2"/><path d="M11.5 0C34.4 -6.6 67.8 2.6 93.4 14.1C67.8 9.7 34.4 1.5 11.5 0Z" fill="#8ad3d3"/><path d="M8 0C34.4 25.7 76.6 25.1 96 14.1C71.4 19.4 36.2 18 8 0Z" fill="#1f4447"/><path d="M11.5 0C34.4 -6.6 67.8 2.6 93.4 14.1M11.5 0C34.4 1.5 67.8 9.7 93.4 14.1M8 0C36.2 18 71.4 19.4 96 14.1" fill="none" stroke="#fff" stroke-width="1.1"/></g><g transform="translate(6 631) rotate(52)"><path d="M8 0C21.6 11.2 50.2 6.5 70 -6.2C56.4 -13.7 26.6 -15.8 8 0Z" fill="#4f9ea3"/><path d="M10.5 0C26.6 6.2 50.2 1.6 68.1 -6.2C50.2 -3.2 26.6 0.6 10.5 0Z" fill="#7fc9cb"/><path d="M8 0C26.6 -15.8 56.4 -13.7 70 -6.2C52.6 -9.8 27.8 -10.6 8 0Z" fill="#1d3f42"/><path d="M10.5 0C26.6 6.2 50.2 1.6 68.1 -6.2M10.5 0C26.6 0.6 50.2 -3.2 68.1 -6.2M8 0C27.8 -10.6 52.6 -9.8 70 -6.2" fill="none" stroke="#fff" stroke-width="1.1"/></g><g transform="translate(6 631) rotate(70)"><path d="M8 0C24.7 -10.8 59.7 -3.8 84 10.6C67.3 19.1 30.8 19.8 8 0Z" fill="#4a979c"/><path d="M11 0C30.8 -5.2 59.7 1.8 81.7 10.6C59.7 7.2 30.8 1.1 11 0Z" fill="#76c2c5"/><path d="M8 0C30.8 19.8 67.3 19.1 84 10.6C62.7 14.7 32.3 13.8 8 0Z" fill="#233f44"/><path d="M11 0C30.8 -5.2 59.7 1.8 81.7 10.6M11 0C30.8 1.1 59.7 7.2 81.7 10.6M8 0C32.3 13.8 62.7 14.7 84 10.6" fill="none" stroke="#fff" stroke-width="1.1"/></g><g transform="translate(6 631) rotate(88)"><path d="M8 0C23.4 11.4 55.6 7.1 78 -5.6C62.6 -13.1 29 -15.6 8 0Z" fill="#4f9ea3"/><path d="M10.8 0C29 6.5 55.6 2.2 75.9 -5.6C55.6 -2.6 29 0.9 10.8 0Z" fill="#7fc9cb"/><path d="M8 0C29 -15.6 62.6 -13.1 78 -5.6C58.4 -9.2 30.4 -10.3 8 0Z" fill="#1d3f42"/><path d="M10.8 0C29 6.5 55.6 2.2 75.9 -5.6M10.8 0C29 0.9 55.6 -2.6 75.9 -5.6M8 0C30.4 -10.3 58.4 -9.2 78 -5.6" fill="none" stroke="#fff" stroke-width="1.1"/></g><g transform="translate(70 636) rotate(-22)"><path d="M0 0C4.8 -7.6 15 -6.8 22 0C17.2 4 6.6 6.8 0 0Z" fill="#5aaeb2"/><path d="M0.9 0C6.6 -5 15 -4.2 21.3 0C15 -1.6 6.6 -2 0.9 0Z" fill="#8ad3d3"/><path d="M0.9 0C6.6 -5 15 -4.2 21.3 0M0.9 0C6.6 -2 15 -1.6 21.3 0M0 0C7 4 15.8 1.9 22 0" fill="none" stroke="#fff" stroke-width="0.6"/></g><g transform="translate(64 674) rotate(15)"><path d="M0 0C6.6 -6.6 20.4 -6 30 0C23.4 3.5 9 6 0 0Z" fill="#5aaeb2"/><path d="M1.2 0C9 -4.3 20.4 -3.6 29.1 0C20.4 -1.4 9 -1.8 1.2 0Z" fill="#8ad3d3"/><path d="M1.2 0C9 -4.3 20.4 -3.6 29.1 0M1.2 0C9 -1.8 20.4 -1.4 29.1 0M0 0C9.6 3.5 21.6 1.7 30 0" fill="none" stroke="#fff" stroke-width="0.5"/></g><g transform="translate(50 660) rotate(70)"><path d="M0 0C4.4 -3.3 13.6 -3 20 0C15.6 1.8 6 3 0 0Z" fill="#5aaeb2"/><path d="M0.8 0C6 -2.2 13.6 -1.8 19.4 0M0.8 0C6 -0.9 13.6 -0.7 19.4 0M0 0C6.4 1.8 14.4 0.8 20 0" fill="none" stroke="#fff" stroke-width="0.5"/></g><g transform="translate(36 600) rotate(-55)"><path d="M0 0C6.6 -4.8 20.4 -4.2 30 0C23.4 2.5 9 4.2 0 0Z" fill="#4f9ea3"/><path d="M0 0C9 4.2 23.4 2.5 30 0C21.6 1.2 9.6 2.5 0 0Z" fill="#1d3f42"/><path d="M1.2 0C9 -3.1 20.4 -2.6 29.1 0M1.2 0C9 -1.2 20.4 -1 29.1 0M0 0C9.6 2.5 21.6 1.2 30 0" fill="none" stroke="#fff" stroke-width="0.5"/></g><g opacity="0.95"><g transform="translate(1286 90) rotate(176)"><path d="M8 0C25.6 -19.6 62.4 -14 88 6.4C70.4 18.4 32 23.6 8 0Z" fill="#bfe0f3"/><path d="M11.2 0C32 -11.7 62.4 -6.1 85.6 6.4C62.4 1.6 32 -2.8 11.2 0Z" fill="#dbeefa"/><path d="M8 0C32 23.6 70.4 18.4 88 6.4C65.6 12.2 33.6 15.2 8 0Z" fill="#a9a6d4"/><path d="M11.2 0C32 -11.7 62.4 -6.1 85.6 6.4M11.2 0C32 -2.8 62.4 1.6 85.6 6.4M8 0C33.6 15.2 65.6 12.2 88 6.4" fill="none" stroke="#fff" stroke-width="1.1"/></g><g transform="translate(1286 90) rotate(203)"><path d="M8 0C25.6 22.8 62.4 20.4 88 0C70.4 -12 32 -20.4 8 0Z" fill="#cbe6f6"/><path d="M11.2 0C32 14.9 62.4 12.5 85.6 0C62.4 4.8 32 6 11.2 0Z" fill="#e2f2fb"/><path d="M8 0C32 -20.4 70.4 -12 88 0C65.6 -5.8 33.6 -12 8 0Z" fill="#b3b0da"/><path d="M11.2 0C32 14.9 62.4 12.5 85.6 0M11.2 0C32 6 62.4 4.8 85.6 0M8 0C33.6 -12 65.6 -5.8 88 0" fill="none" stroke="#fff" stroke-width="1.1"/></g><g transform="translate(1286 90) rotate(230)"><path d="M8 0C24.3 -17.9 58.3 -12.8 82 5.9C65.7 16.9 30.2 21.7 8 0Z" fill="#bfe0f3"/><path d="M11 0C30.2 -10.7 58.3 -5.5 79.8 5.9C58.3 1.5 30.2 -2.5 11 0Z" fill="#dbeefa"/><path d="M8 0C30.2 21.7 65.7 16.9 82 5.9C61.3 11.2 31.7 14 8 0Z" fill="#a9a6d4"/><path d="M11 0C30.2 -10.7 58.3 -5.5 79.8 5.9M11 0C30.2 -2.5 58.3 1.5 79.8 5.9M8 0C31.7 14 61.3 11.2 82 5.9" fill="none" stroke="#fff" stroke-width="1.1"/></g><g transform="translate(1286 90) rotate(256)"><path d="M8 0C22.5 19 52.9 17 74 0C59.5 -10 27.8 -17 8 0Z" fill="#cbe6f6"/><path d="M10.6 0C27.8 12.4 52.9 10.4 72 0C52.9 4 27.8 5 10.6 0Z" fill="#e2f2fb"/><path d="M8 0C27.8 -17 59.5 -10 74 0C55.5 -4.8 29.1 -10 8 0Z" fill="#b3b0da"/><path d="M10.6 0C27.8 12.4 52.9 10.4 72 0M10.6 0C27.8 5 52.9 4 72 0M8 0C29.1 -10 55.5 -4.8 74 0" fill="none" stroke="#fff" stroke-width="1.1"/></g><g transform="translate(1286 90) rotate(150)"><path d="M8 0C24.7 18.8 59.7 13.5 84 -6.1C67.3 -17.6 30.8 -22.6 8 0Z" fill="#cbe6f6"/><path d="M11 0C30.8 11.2 59.7 5.9 81.7 -6.1C59.7 -1.5 30.8 2.7 11 0Z" fill="#e2f2fb"/><path d="M8 0C30.8 -22.6 67.3 -17.6 84 -6.1C62.7 -11.6 32.3 -14.5 8 0Z" fill="#b3b0da"/><path d="M11 0C30.8 11.2 59.7 5.9 81.7 -6.1M11 0C30.8 2.7 59.7 -1.5 81.7 -6.1M8 0C32.3 -14.5 62.7 -11.6 84 -6.1" fill="none" stroke="#fff" stroke-width="1.1"/></g><g transform="translate(1286 90) rotate(124)"><path d="M8 0C22.1 -19 51.5 -17 72 0C57.9 10 27.2 17 8 0Z" fill="#bfe0f3"/><path d="M10.6 0C27.2 -12.4 51.5 -10.4 70.1 0C51.5 -4 27.2 -5 10.6 0Z" fill="#dbeefa"/><path d="M8 0C27.2 17 57.9 10 72 0C54.1 4.8 28.5 10 8 0Z" fill="#a9a6d4"/><path d="M10.6 0C27.2 -12.4 51.5 -10.4 70.1 0M10.6 0C27.2 -5 51.5 -4 70.1 0M8 0C28.5 10 54.1 4.8 72 0" fill="none" stroke="#fff" stroke-width="1.1"/></g><g transform="translate(1286 90) rotate(100)"><path d="M8 0C19.4 15.2 43.4 13.6 60 0C48.6 -8 23.6 -13.6 8 0Z" fill="#b8dcf2"/><path d="M10.1 0C23.6 9.9 43.4 8.3 58.4 0C43.4 3.2 23.6 4 10.1 0Z" fill="#d6ecf8"/><path d="M10.1 0C23.6 9.9 43.4 8.3 58.4 0M10.1 0C23.6 4 43.4 3.2 58.4 0M8 0C24.6 -8 45.4 -3.8 60 0" fill="none" stroke="#fff" stroke-width="1.1"/></g></g><g transform="translate(1200 92) rotate(170)"><path d="M0 0C3.7 -6.6 11.6 -6 17 0C13.3 3.5 5.1 6 0 0Z" fill="#bfe0f3"/><path d="M0.7 0C5.1 -4.3 11.6 -3.6 16.5 0C11.6 -1.4 5.1 -1.8 0.7 0Z" fill="#dbeefa"/><path d="M0.7 0C5.1 -4.3 11.6 -3.6 16.5 0M0.7 0C5.1 -1.8 11.6 -1.4 16.5 0M0 0C5.4 3.5 12.2 1.7 17 0" fill="none" stroke="#fff" stroke-width="0.5"/></g><g transform="translate(1236 58) rotate(250)"><path d="M0 0C3.1 -3.3 9.5 -3 14 0C10.9 1.8 4.2 3 0 0Z" fill="#bfe0f3"/><path d="M0.6 0C4.2 -2.2 9.5 -1.8 13.6 0M0.6 0C4.2 -0.9 9.5 -0.7 13.6 0M0 0C4.5 1.8 10.1 0.8 14 0" fill="none" stroke="#fff" stroke-width="0.5"/></g><g transform="translate(1212 132) rotate(140)"><path d="M0 0C4 -5.7 12.2 -5.1 18 0C14 3 5.4 5.1 0 0Z" fill="#cbe6f6"/><path d="M0.7 0C5.4 -3.7 12.2 -3.1 17.5 0M0.7 0C5.4 -1.5 12.2 -1.2 17.5 0M0 0C5.8 3 13 1.4 18 0" fill="none" stroke="#fff" stroke-width="0.5"/></g><g opacity="0.6"><g transform="translate(1163 142) rotate(-150)"><path d="M4 0C10.6 -9.2 24.4 -8.9 34 -1.2C27.4 3.3 13 7 4 0Z" fill="#b8dcf2"/><path d="M5.2 0C13 -6.2 24.4 -5.9 33.1 -1.2C24.4 -3 13 -2.9 5.2 0Z" fill="#d6ecf8"/><path d="M5.2 0C13 -6.2 24.4 -5.9 33.1 -1.2M5.2 0C13 -2.9 24.4 -3 33.1 -1.2M4 0C13.6 3.9 25.6 1 34 -1.2" fill="none" stroke="#fff" stroke-width="0.6"/></g><g transform="translate(1163 142) rotate(-120)"><path d="M4 0C11.5 -9.5 27.1 -8.5 38 -0C30.5 5 14.2 8.5 4 0Z" fill="#bfe0f3"/><path d="M5.4 0C14.2 -6.2 27.1 -5.2 37 -0C27.1 -2 14.2 -2.5 5.4 0Z" fill="#dbeefa"/><path d="M4 0C14.2 8.5 30.5 5 38 -0C28.5 2.4 14.9 5 4 0Z" fill="#a9a6d4"/><path d="M5.4 0C14.2 -6.2 27.1 -5.2 37 -0M5.4 0C14.2 -2.5 27.1 -2 37 -0M4 0C14.9 5 28.5 2.4 38 -0" fill="none" stroke="#fff" stroke-width="0.7"/></g><g transform="translate(1163 142) rotate(-90)"><path d="M4 0C11.9 10.4 28.5 10.3 40 1.8C32.1 -3.2 14.8 -7.6 4 0Z" fill="#b8dcf2"/><path d="M5.4 0C14.8 7.1 28.5 7 38.9 1.8C28.5 3.8 14.8 3.4 5.4 0Z" fill="#d6ecf8"/><path d="M5.4 0C14.8 7.1 28.5 7 38.9 1.8M5.4 0C14.8 3.4 28.5 3.8 38.9 1.8M4 0C15.5 -4.1 29.9 -0.6 40 1.8" fill="none" stroke="#fff" stroke-width="0.7"/></g><g transform="translate(1163 142) rotate(-60)"><path d="M4 0C11 -8.8 25.8 -8.2 36 -0.6C29 3.9 13.6 7.4 4 0Z" fill="#a9a6d4"/><path d="M5.3 0C13.6 -5.9 25.8 -5.3 35 -0.6C25.8 -2.4 13.6 -2.5 5.3 0Z" fill="#c4c2e4"/><path d="M5.3 0C13.6 -5.9 25.8 -5.3 35 -0.6M5.3 0C13.6 -2.5 25.8 -2.4 35 -0.6M4 0C14.2 4.2 27 1.6 36 -0.6" fill="none" stroke="#fff" stroke-width="0.6"/></g><g transform="translate(1163 142) rotate(-30)"><path d="M4 0C10.2 -7.7 23 -6.9 32 -0.1C25.8 3.9 12.4 6.7 4 0Z" fill="#bfe0f3"/><path d="M5.1 0C12.4 -5 23 -4.3 31.2 -0.1C23 -1.7 12.4 -2.1 5.1 0Z" fill="#dbeefa"/><path d="M4 0C12.4 6.7 25.8 3.9 32 -0.1C24.2 1.8 13 3.9 4 0Z" fill="#a9a6d4"/><path d="M5.1 0C12.4 -5 23 -4.3 31.2 -0.1M5.1 0C12.4 -2.1 23 -1.7 31.2 -0.1M4 0C13 3.9 24.2 1.8 32 -0.1" fill="none" stroke="#fff" stroke-width="0.6"/></g></g><g opacity="0.7"><g transform="translate(1296 262) rotate(150)"><path d="M5 0C15.6 13.4 37.6 12 53 0.1C42.4 -6.9 19.4 -11.8 5 0Z" fill="#bfe0f3"/><path d="M6.9 0C19.4 8.8 37.6 7.4 51.6 0.1C37.6 2.9 19.4 3.6 6.9 0Z" fill="#dbeefa"/><path d="M5 0C19.4 -11.8 42.4 -6.9 53 0.1C39.6 -3.2 20.4 -6.9 5 0Z" fill="#a9a6d4"/><path d="M6.9 0C19.4 8.8 37.6 7.4 51.6 0.1M6.9 0C19.4 3.6 37.6 2.9 51.6 0.1M5 0C20.4 -6.9 39.6 -3.2 53 0.1" fill="none" stroke="#fff" stroke-width="1"/></g><g transform="translate(1296 262) rotate(180)"><path d="M5 0C16.4 -13.6 40.4 -11.5 57 1.3C45.6 8.8 20.6 13.4 5 0Z" fill="#a9a6d4"/><path d="M7.1 0C20.6 -8.7 40.4 -6.5 55.4 1.3C40.4 -1.7 20.6 -3.1 7.1 0Z" fill="#c4c2e4"/><path d="M7.1 0C20.6 -8.7 40.4 -6.5 55.4 1.3M7.1 0C20.6 -3.1 40.4 -1.7 55.4 1.3M5 0C21.6 8.1 42.4 4.9 57 1.3" fill="none" stroke="#fff" stroke-width="1.1"/></g><g transform="translate(1296 262) rotate(210)"><path d="M5 0C15.6 -13.6 37.6 -12.6 53 -0.7C42.4 6.3 19.4 11.6 5 0Z" fill="#b8dcf2"/><path d="M6.9 0C19.4 -9 37.6 -7.9 51.6 -0.7C37.6 -3.5 19.4 -3.8 6.9 0Z" fill="#d6ecf8"/><path d="M6.9 0C19.4 -9 37.6 -7.9 51.6 -0.7M6.9 0C19.4 -3.8 37.6 -3.5 51.6 -0.7M5 0C20.4 6.7 39.6 2.7 53 -0.7" fill="none" stroke="#fff" stroke-width="1"/></g><g transform="translate(1296 262) rotate(240)"><path d="M5 0C14.7 -11.5 34.9 -10.4 49 -0.2C39.3 5.8 18.2 10.1 5 0Z" fill="#cbe6f6"/><path d="M6.8 0C18.2 -7.5 34.9 -6.4 47.7 -0.2C34.9 -2.6 18.2 -3.1 6.8 0Z" fill="#e2f2fb"/><path d="M5 0C18.2 10.1 39.3 5.8 49 -0.2C36.7 2.7 19.1 5.9 5 0Z" fill="#b3b0da"/><path d="M6.8 0C18.2 -7.5 34.9 -6.4 47.7 -0.2M6.8 0C18.2 -3.1 34.9 -2.6 47.7 -0.2M5 0C19.1 5.9 36.7 2.7 49 -0.2" fill="none" stroke="#fff" stroke-width="0.8"/></g><g transform="translate(1296 262) rotate(120)"><path d="M5 0C14.7 11.4 34.9 10.2 49 0C39.3 -6 18.2 -10.2 5 0Z" fill="#cbe6f6"/><path d="M6.8 0C18.2 7.5 34.9 6.3 47.7 0C34.9 2.4 18.2 3 6.8 0Z" fill="#e2f2fb"/><path d="M5 0C18.2 -10.2 39.3 -6 49 0C36.7 -2.8 19.1 -6 5 0Z" fill="#b3b0da"/><path d="M6.8 0C18.2 7.5 34.9 6.3 47.7 0M6.8 0C18.2 3 34.9 2.4 47.7 0M5 0C19.1 -6 36.7 -2.8 49 0" fill="none" stroke="#fff" stroke-width="0.8"/></g></g><g opacity="0.7"><g transform="translate(1298 372) rotate(150)"><path d="M5 0C16 14.4 39 14.1 55 2.2C44 -4.8 20 -10.8 5 0Z" fill="#cbe6f6"/><path d="M7 0C20 9.8 39 9.5 53.5 2.2C39 5 20 4.6 7 0Z" fill="#e2f2fb"/><path d="M5 0C20 -10.8 44 -4.8 55 2.2C41 -1.1 21 -5.9 5 0Z" fill="#b3b0da"/><path d="M7 0C20 9.8 39 9.5 53.5 2.2M7 0C20 4.6 39 5 53.5 2.2M5 0C21 -5.9 41 -1.1 55 2.2" fill="none" stroke="#fff" stroke-width="1"/></g><g transform="translate(1298 372) rotate(180)"><path d="M5 0C16.9 -12.9 41.7 -10 59 2.7C47.1 10.2 21.2 14.1 5 0Z" fill="#a9a6d4"/><path d="M7.2 0C21.2 -7.9 41.7 -5.1 57.4 2.7C41.7 -0.3 21.2 -2.4 7.2 0Z" fill="#c4c2e4"/><path d="M7.2 0C21.2 -7.9 41.7 -5.1 57.4 2.7M7.2 0C21.2 -2.4 41.7 -0.3 57.4 2.7M5 0C22.3 8.9 43.9 6.3 59 2.7" fill="none" stroke="#fff" stroke-width="1.1"/></g><g transform="translate(1298 372) rotate(210)"><path d="M5 0C16 -13.5 39 -12.2 55 -0.3C44 6.7 20 11.7 5 0Z" fill="#b8dcf2"/><path d="M7 0C20 -8.8 39 -7.6 53.5 -0.3C39 -3.1 20 -3.7 7 0Z" fill="#d6ecf8"/><path d="M7 0C20 -8.8 39 -7.6 53.5 -0.3M7 0C20 -3.7 39 -3.1 53.5 -0.3M5 0C21 6.8 41 3.1 55 -0.3" fill="none" stroke="#fff" stroke-width="1"/></g><g transform="translate(1298 372) rotate(240)"><path d="M5 0C14.7 10.6 34.9 8.5 49 -1.7C39.3 -7.7 18.2 -11 5 0Z" fill="#b8dcf2"/><path d="M6.8 0C18.2 6.6 34.9 4.6 47.7 -1.7C34.9 0.7 18.2 2.2 6.8 0Z" fill="#d6ecf8"/><path d="M6.8 0C18.2 6.6 34.9 4.6 47.7 -1.7M6.8 0C18.2 2.2 34.9 0.7 47.7 -1.7M5 0C19.1 -6.8 36.7 -4.6 49 -1.7" fill="none" stroke="#fff" stroke-width="0.8"/></g><g transform="translate(1298 372) rotate(120)"><path d="M5 0C14.7 10.1 34.9 7.6 49 -2.6C39.3 -8.6 18.2 -11.5 5 0Z" fill="#a9a6d4"/><path d="M6.8 0C18.2 6.2 34.9 3.7 47.7 -2.6C34.9 -0.2 18.2 1.7 6.8 0Z" fill="#c4c2e4"/><path d="M6.8 0C18.2 6.2 34.9 3.7 47.7 -2.6M6.8 0C18.2 1.7 34.9 -0.2 47.7 -2.6M5 0C19.1 -7.3 36.7 -5.4 49 -2.6" fill="none" stroke="#fff" stroke-width="0.8"/></g></g><g opacity="0.7"><g transform="translate(1296 470) rotate(150)"><path d="M5 0C15.6 14.3 37.6 13.9 53 2C42.4 -5 19.4 -10.9 5 0Z" fill="#cbe6f6"/><path d="M6.9 0C19.4 9.7 37.6 9.3 51.6 2C37.6 4.8 19.4 4.5 6.9 0Z" fill="#e2f2fb"/><path d="M5 0C19.4 -10.9 42.4 -5 53 2C39.6 -1.3 20.4 -6 5 0Z" fill="#b3b0da"/><path d="M6.9 0C19.4 9.7 37.6 9.3 51.6 2M6.9 0C19.4 4.5 37.6 4.8 51.6 2M5 0C20.4 -6 39.6 -1.3 53 2" fill="none" stroke="#fff" stroke-width="1"/></g><g transform="translate(1296 470) rotate(180)"><path d="M5 0C16.4 -13.8 40.4 -11.8 57 1C45.6 8.5 20.6 13.2 5 0Z" fill="#bfe0f3"/><path d="M7.1 0C20.6 -8.8 40.4 -6.8 55.4 1C40.4 -2 20.6 -3.3 7.1 0Z" fill="#dbeefa"/><path d="M5 0C20.6 13.2 45.6 8.5 57 1C42.4 4.6 21.6 8 5 0Z" fill="#a9a6d4"/><path d="M7.1 0C20.6 -8.8 40.4 -6.8 55.4 1M7.1 0C20.6 -3.3 40.4 -2 55.4 1M5 0C21.6 8 42.4 4.6 57 1" fill="none" stroke="#fff" stroke-width="1.1"/></g><g transform="translate(1296 470) rotate(210)"><path d="M5 0C15.6 -13 37.6 -11.4 53 0.5C42.4 7.5 19.4 12.2 5 0Z" fill="#b8dcf2"/><path d="M6.9 0C19.4 -8.4 37.6 -6.8 51.6 0.5C37.6 -2.3 19.4 -3.2 6.9 0Z" fill="#d6ecf8"/><path d="M6.9 0C19.4 -8.4 37.6 -6.8 51.6 0.5M6.9 0C19.4 -3.2 37.6 -2.3 51.6 0.5M5 0C20.4 7.3 39.6 3.9 53 0.5" fill="none" stroke="#fff" stroke-width="1"/></g><g transform="translate(1296 470) rotate(240)"><path d="M5 0C14.7 -12.3 34.9 -12.1 49 -1.9C39.3 4.1 18.2 9.3 5 0Z" fill="#b8dcf2"/><path d="M6.8 0C18.2 -8.4 34.9 -8.1 47.7 -1.9C34.9 -4.3 18.2 -3.9 6.8 0Z" fill="#d6ecf8"/><path d="M6.8 0C18.2 -8.4 34.9 -8.1 47.7 -1.9M6.8 0C18.2 -3.9 34.9 -4.3 47.7 -1.9M5 0C19.1 5.1 36.7 1 49 -1.9" fill="none" stroke="#fff" stroke-width="0.8"/></g><g transform="translate(1296 470) rotate(120)"><path d="M5 0C14.7 11.9 34.9 11.2 49 1C39.3 -5 18.2 -9.7 5 0Z" fill="#cbe6f6"/><path d="M6.8 0C18.2 7.9 34.9 7.2 47.7 1C34.9 3.4 18.2 3.5 6.8 0Z" fill="#e2f2fb"/><path d="M5 0C18.2 -9.7 39.3 -5 49 1C36.7 -1.9 19.1 -5.5 5 0Z" fill="#b3b0da"/><path d="M6.8 0C18.2 7.9 34.9 7.2 47.7 1M6.8 0C18.2 3.5 34.9 3.4 47.7 1M5 0C19.1 -5.5 36.7 -1.9 49 1" fill="none" stroke="#fff" stroke-width="0.8"/></g></g><g opacity="0.8"><g transform="translate(1070 505) rotate(-20)"><path d="M4 0C12.8 10.4 31.2 9.3 44 -0.1C35.2 -5.6 16 -9.4 4 0Z" fill="#bfe0f3"/><path d="M5.6 0C16 6.8 31.2 5.6 42.8 -0.1C31.2 2.1 16 2.7 5.6 0Z" fill="#dbeefa"/><path d="M4 0C16 -9.4 35.2 -5.6 44 -0.1C32.8 -2.7 16.8 -5.5 4 0Z" fill="#a9a6d4"/><path d="M5.6 0C16 6.8 31.2 5.6 42.8 -0.1M5.6 0C16 2.7 31.2 2.1 42.8 -0.1M4 0C16.8 -5.5 32.8 -2.7 44 -0.1" fill="none" stroke="#fff" stroke-width="0.8"/></g><g transform="translate(1070 505) rotate(10)"><path d="M4 0C13.7 -10.4 33.9 -8.2 48 2C38.3 8 17.2 11.2 4 0Z" fill="#a9a6d4"/><path d="M5.8 0C17.2 -6.5 33.9 -4.3 46.7 2C33.9 -0.4 17.2 -2 5.8 0Z" fill="#c4c2e4"/><path d="M5.8 0C17.2 -6.5 33.9 -4.3 46.7 2M5.8 0C17.2 -2 33.9 -0.4 46.7 2M4 0C18.1 7 35.7 4.8 48 2" fill="none" stroke="#fff" stroke-width="0.8"/></g><g transform="translate(1070 505) rotate(40)"><path d="M4 0C12.8 -10.7 31.2 -9.9 44 -0.5C35.2 5 16 9.1 4 0Z" fill="#a9a6d4"/><path d="M5.6 0C16 -7.1 31.2 -6.2 42.8 -0.5C31.2 -2.7 16 -3 5.6 0Z" fill="#c4c2e4"/><path d="M5.6 0C16 -7.1 31.2 -6.2 42.8 -0.5M5.6 0C16 -3 31.2 -2.7 42.8 -0.5M4 0C16.8 5.2 32.8 2.1 44 -0.5" fill="none" stroke="#fff" stroke-width="0.8"/></g></g><g opacity="0.95"><g transform="translate(1292 612) rotate(110)"><path d="M16 0C49 21.9 118 15.4 166 -7.5C133 -21 61 -26.7 16 0Z" fill="#cbe6f6"/><path d="M22 0C61 13 118 6.5 161.5 -7.5C118 -2.1 61 3 22 0Z" fill="#e2f2fb"/><path d="M16 0C61 -26.7 133 -21 166 -7.5C124 -6.2 64 -9.2 16 0Z" fill="#b3b0da"/><path d="M22 0C61 13 118 6.5 161.5 -7.5M22 0C61 3 118 -2.1 161.5 -7.5M16 0C64 -9.2 124 -6.2 166 -7.5" fill="none" stroke="#fff" stroke-width="1.1"/></g><g transform="translate(1292 612) rotate(124)"><path d="M16 0C54.5 -24.1 135 -16.8 191 8.8C152.5 23.8 68.5 29.9 16 0Z" fill="#bfe0f3"/><path d="M23 0C68.5 -14.2 135 -6.9 185.8 8.8C135 2.8 68.5 -3.1 23 0Z" fill="#dbeefa"/><path d="M16 0C68.5 29.9 152.5 23.8 191 8.8C142 7.2 72 10.4 16 0Z" fill="#a9a6d4"/><path d="M23 0C68.5 -14.2 135 -6.9 185.8 8.8M23 0C68.5 -3.1 135 2.8 185.8 8.8M16 0C72 10.4 142 7.2 191 8.8" fill="none" stroke="#fff" stroke-width="1.1"/></g><g transform="translate(1292 612) rotate(138)"><path d="M16 0C60 24.4 152 15.2 216 -12C172 -28 76 -33.2 16 0Z" fill="#cbe6f6"/><path d="M24 0C76 13.8 152 4.6 210 -12C152 -5.6 76 2 24 0Z" fill="#e2f2fb"/><path d="M16 0C76 -33.2 172 -28 216 -12C160 -10.4 80 -12.4 16 0Z" fill="#b3b0da"/><path d="M24 0C76 13.8 152 4.6 210 -12M24 0C76 2 152 -5.6 210 -12M16 0C80 -12.4 160 -10.4 216 -12" fill="none" stroke="#fff" stroke-width="1.1"/></g><g transform="translate(1292 612) rotate(151)"><path d="M16 0C63.3 -24.9 162.2 -15.2 231 12.9C183.7 29.4 80.5 34.5 16 0Z" fill="#bfe0f3"/><path d="M24.6 0C80.5 -14 162.2 -4.3 224.6 12.9C162.2 6.3 80.5 -1.8 24.6 0Z" fill="#dbeefa"/><path d="M16 0C80.5 34.5 183.7 29.4 231 12.9C170.8 11.2 84.8 13.1 16 0Z" fill="#a9a6d4"/><path d="M24.6 0C80.5 -14 162.2 -4.3 224.6 12.9M24.6 0C80.5 -1.8 162.2 6.3 224.6 12.9M16 0C84.8 13.1 170.8 11.2 231 12.9" fill="none" stroke="#fff" stroke-width="1.1"/></g><g transform="translate(1292 612) rotate(164)"><path d="M16 0C64.8 24.7 167 14.7 238 -13.3C189.2 -29.8 82.6 -34.7 16 0Z" fill="#cbe6f6"/><path d="M24.9 0C82.6 13.8 167 3.8 231.3 -13.3C167 -6.7 82.6 1.6 24.9 0Z" fill="#e2f2fb"/><path d="M16 0C82.6 -34.7 189.2 -29.8 238 -13.3C175.8 -11.7 87 -13.3 16 0Z" fill="#b3b0da"/><path d="M24.9 0C82.6 13.8 167 3.8 231.3 -13.3M24.9 0C82.6 1.6 167 -6.7 231.3 -13.3M16 0C87 -13.3 175.8 -11.7 238 -13.3" fill="none" stroke="#fff" stroke-width="1.1"/></g><g transform="translate(1292 612) rotate(177)"><path d="M16 0C63.3 -25 162.2 -16.4 231 10.8C183.7 26.8 80.5 32.6 16 0Z" fill="#bfe0f3"/><path d="M24.6 0C80.5 -14.5 162.2 -5.9 224.6 10.8C162.2 4.3 80.5 -2.6 24.6 0Z" fill="#dbeefa"/><path d="M16 0C80.5 32.6 183.7 26.8 231 10.8C170.8 9.2 84.8 11.8 16 0Z" fill="#a9a6d4"/><path d="M24.6 0C80.5 -14.5 162.2 -5.9 224.6 10.8M24.6 0C80.5 -2.6 162.2 4.3 224.6 10.8M16 0C84.8 11.8 170.8 9.2 231 10.8" fill="none" stroke="#fff" stroke-width="1.1"/></g><g transform="translate(1292 612) rotate(190)"><path d="M16 0C61.1 34.6 155.4 36.6 221 10.2C175.9 -5.2 77.5 -21.2 16 0Z" fill="#cbe6f6"/><path d="M24.2 0C77.5 24.3 155.4 26.4 214.8 10.2C155.4 16.4 77.5 12.9 24.2 0Z" fill="#e2f2fb"/><path d="M16 0C77.5 -21.2 175.9 -5.2 221 10.2C163.6 11.8 81.6 -1.1 16 0Z" fill="#b3b0da"/><path d="M24.2 0C77.5 24.3 155.4 26.4 214.8 10.2M24.2 0C77.5 12.9 155.4 16.4 214.8 10.2M16 0C81.6 -1.1 163.6 11.8 221 10.2" fill="none" stroke="#fff" stroke-width="1.1"/></g><g transform="translate(1292 612) rotate(203)"><path d="M16 0C56.7 -32.1 141.8 -34.9 201 -11.1C160.3 2.9 71.5 18.2 16 0Z" fill="#bfe0f3"/><path d="M23.4 0C71.5 -22.9 141.8 -25.7 195.4 -11.1C141.8 -16.7 71.5 -12.6 23.4 0Z" fill="#dbeefa"/><path d="M16 0C71.5 18.2 160.3 2.9 201 -11.1C149.2 -12.5 75.2 0.1 16 0Z" fill="#a9a6d4"/><path d="M23.4 0C71.5 -22.9 141.8 -25.7 195.4 -11.1M23.4 0C71.5 -12.6 141.8 -16.7 195.4 -11.1M16 0C75.2 0.1 149.2 -12.5 201 -11.1" fill="none" stroke="#fff" stroke-width="1.1"/></g><g transform="translate(1292 612) rotate(217)"><path d="M16 0C51.2 22.8 124.8 20.4 176 0C140.8 -12 64 -20.4 16 0Z" fill="#cbe6f6"/><path d="M22.4 0C64 14.9 124.8 12.5 171.2 0C124.8 4.8 64 6 22.4 0Z" fill="#e2f2fb"/><path d="M16 0C64 -20.4 140.8 -12 176 0C131.2 1.2 67.2 -4.8 16 0Z" fill="#b3b0da"/><path d="M22.4 0C64 14.9 124.8 12.5 171.2 0M22.4 0C64 6 124.8 4.8 171.2 0M16 0C67.2 -4.8 131.2 1.2 176 0" fill="none" stroke="#fff" stroke-width="1.1"/></g><g transform="translate(1292 612) rotate(232)"><path d="M16 0C44.6 -19 104.4 -17 146 0C117.4 10 55 17 16 0Z" fill="#bfe0f3"/><path d="M21.2 0C55 -12.4 104.4 -10.4 142.1 0C104.4 -4 55 -5 21.2 0Z" fill="#dbeefa"/><path d="M16 0C55 17 117.4 10 146 0C109.6 -1 57.6 4 16 0Z" fill="#a9a6d4"/><path d="M21.2 0C55 -12.4 104.4 -10.4 142.1 0M21.2 0C55 -5 104.4 -4 142.1 0M16 0C57.6 4 109.6 -1 146 0" fill="none" stroke="#fff" stroke-width="1.1"/></g><g transform="translate(1292 612) rotate(96)"><path d="M16 0C44.6 -21.8 104.4 -19.6 146 0C117.4 11.5 55 19.6 16 0Z" fill="#bfe0f3"/><path d="M21.2 0C55 -14.3 104.4 -12 142.1 0C104.4 -4.6 55 -5.8 21.2 0Z" fill="#dbeefa"/><path d="M16 0C55 19.6 117.4 11.5 146 0C109.6 -1.2 57.6 4.6 16 0Z" fill="#a9a6d4"/><path d="M21.2 0C55 -14.3 104.4 -12 142.1 0M21.2 0C55 -5.8 104.4 -4.6 142.1 0M16 0C57.6 4.6 109.6 -1.2 146 0" fill="none" stroke="#fff" stroke-width="1.1"/></g></g><g transform="translate(1046 630) rotate(-20)"><path d="M0 0C12.8 -17.1 39.4 -15.3 58 0C45.2 9 17.4 15.3 0 0Z" fill="#cfe7f5"/><path d="M2.3 0C17.4 -11.2 39.4 -9.4 56.3 0C39.4 -3.6 17.4 -4.5 2.3 0Z" fill="#e3f2fb"/><path d="M2.3 0C17.4 -11.2 39.4 -9.4 56.3 0M2.3 0C17.4 -4.5 39.4 -3.6 56.3 0M0 0C18.6 9 41.8 4.3 58 0" fill="none" stroke="#fff" stroke-width="1.1"/></g></svg>
<!-- ===== DATA IZIN block ===== -->
<div class="b" style="left:118px;top:66.100px;width:148px;height:31.700px;background:#00b0f0"></div>
<div class="b" style="left:264.900px;top:66.100px;width:150.100px;height:31.700px;background:#2e75b8"></div>
<div class="b" style="left:27.900px;top:16.900px;width:91px;height:80.900px;background:#07246c"></div>
<div class="b" style="left:152px;top:100px;width:68px;height:43.5px;box-sizing:border-box;border:5px solid #fe0000;background:#fff"></div>
<!-- dotted separators -->
<div class="b" style="left:138.5px;top:216px;width:247.800px;height:3px;background:repeating-linear-gradient(90deg,#3a5eac 0 3px,transparent 3px 6px)"></div>
<div class="b" style="left:135.5px;top:298.900px;width:248px;height:3px;background:repeating-linear-gradient(90deg,#3a5eac 0 3px,transparent 3px 6px)"></div>

<!-- calendars + rings -->
<svg width="1280" height="720" viewBox="0 0 1280 720" style="left:0;top:0">
  <defs>
    <linearGradient id="rg1" x1="0" y1="0" x2="1" y2="1"><stop offset="0.1" stop-color="#17a19b"/><stop offset=".9" stop-color="#0b6b73"/></linearGradient>
    <linearGradient id="rg2" x1="0" y1="0" x2="1" y2="1"><stop offset="0.12" stop-color="#19d3b5"/><stop offset=".88" stop-color="#0d8587"/></linearGradient>
    <linearGradient id="calb" x1="0" y1="0" x2="1" y2="0"><stop offset="0" stop-color="#f2f2f2"/><stop offset=".85" stop-color="#ebebeb"/><stop offset="1" stop-color="#dedede"/></linearGradient>
    <g id="cal">
      <rect x="0" y="0" width="83.200" height="82" rx="6" fill="url(#calb)"/>
      <path d="M0 21V7a7 7 0 0 1 7-7h69.200a7 7 0 0 1 7 7v14z" fill="#e8242b"/>
      <circle cx="19.200" cy="8" r="4.400" fill="#fff"/><circle cx="63.700" cy="8" r="4.400" fill="#fff"/>
      <rect x="17.800" y="-3.800" width="2.800" height="13.400" rx="1.400" fill="#3b2320"/><rect x="62.300" y="-3.800" width="2.800" height="13.400" rx="1.400" fill="#3b2320"/>
    </g>
  </defs>
  <use href="#cal" x="49.100" y="138.300"/>
  <use href="#cal" x="49.100" y="219"/>
  <use href="#cal" x="49.100" y="304"/>
  <ellipse cx="343.5" cy="172.700" rx="38.900" ry="36.200" fill="none" stroke="url(#rg1)" stroke-width="9.200"/>
  <ellipse cx="344.500" cy="258.400" rx="34.600" ry="32.600" fill="none" stroke="url(#rg2)" stroke-width="7.700"/>
  <ellipse cx="344.600" cy="357" rx="34.900" ry="33" fill="none" stroke="url(#rg2)" stroke-width="8"/>
</svg>
<!-- on going -->
<div class="b" style="left:122.200px;top:300.850px;width:94px;height:35.700px;background:#0000fe;transform:rotate(-4.500deg);transform-origin:50% 50%;color:#fff;font-size:19px;line-height:35.700px;text-align:center;white-space:nowrap;padding-top:1.500px;box-sizing:border-box">on going</div>

<!-- ===== main panel ===== -->
<div class="b" style="left:626.5px;top:144.800px;width:449.500px;height:443.800px;border-radius:0 11px 9px 9px;overflow:hidden;background:#01206a">
  <div class="b" style="left:0;top:0;width:450px;height:68px;background:#00b0f0"></div>
  <div class="b" style="left:0;top:381.200px;width:450px;height:63px;background:#0070c0"></div>
</div>
<!-- right panel -->
<div class="b" style="left:1085.600px;top:200px;width:181.400px;height:330px;background:#00b0f0"></div>
<div class="b" style="left:1079.900px;top:138px;width:198.400px;height:76.500px;border-radius:11px;background:#08b04f"></div>
<div class="b" style="left:1075.800px;top:516.700px;width:202.500px;height:78.400px;border-radius:11px;background:#08b04f"></div>
<div class="b" style="left:1107px;top:178.300px;width:132px;height:1.700px;background:#fff"></div>
<!-- green circle -->
<div class="b" style="left:563.7px;top:119.5px;width:168.3px;height:159.6px;border-radius:50%;background:#14b04f"></div>

<!-- bars -->
<div class="b" style="left:737.200px;top:324.800px;width:89.100px;height:133.200px;background:#ffc000"></div>
<div class="b" style="left:737.200px;top:324.800px;width:89.100px;height:28.700px;background:#ff5a1e"></div>
<div class="b" style="left:895.200px;top:286px;width:89.100px;height:172px;background:#ffc000"></div>
<div class="b" style="left:895.200px;top:286px;width:89.100px;height:77.600px;background:#ff5a1e"></div>
<div class="b" style="left:1130px;top:363.500px;width:89px;height:94.500px;background:#ffc000"></div>
<div class="b" style="left:1130px;top:363.500px;width:89px;height:32.500px;background:#ff5a1e"></div>
<div class="b" style="left:690px;top:457.6px;width:396px;height:1px;background:#3c62ad"></div>
<div class="b" style="left:1085.600px;top:457.600px;width:147.400px;height:1px;background:#4f86b8"></div>
<!-- legends -->
<div class="b" style="left:997px;top:295px;width:17.700px;height:19.700px;background:#ff5a1e"></div>
<div class="b" style="left:997px;top:320.300px;width:17.700px;height:20.200px;background:#ffc000"></div>
<div class="b" style="left:1140px;top:530.7px;width:16px;height:19px;background:#ff5a1e;box-shadow:0 0 0 .7px #4a6fb5"></div>
<div class="b" style="left:1140px;top:556.8px;width:16px;height:19px;background:#ffc000;box-shadow:0 0 0 .7px #4a6fb5"></div>

<!-- ===== IKM ===== -->
<div class="b" style="left:198px;top:452px;width:268px;height:1.400px;background:#1b7a1f"></div>
<div class="b" style="left:242.5px;top:678.300px;width:202px;height:2px;background:#e01a1a"></div>
<svg width="1280" height="720" viewBox="0 0 1280 720" style="left:0;top:0">
  <!-- donuts: blue ring + yellow arc -->
  <g fill="none">
    <ellipse cx="443.4" cy="528.4" rx="56.3" ry="58.4" stroke="#1673c8" stroke-width="11.3"/>
    <path d="M443.4 470A56.3 58.4 0 0 0 399 492.400" stroke="#fec00f" stroke-width="11.3"/>
    <ellipse cx="326.8" cy="578.1" rx="39.500" ry="40.400" stroke="#1673c8" stroke-width="8"/>
    <path d="M326.8 537.700A39.500 40.400 0 0 0 295.700 553.200" stroke="#fec00f" stroke-width="8"/>
    <ellipse cx="509.400" cy="657.200" rx="52.400" ry="49" stroke="#1673c8" stroke-width="10.500"/>
    <path d="M509.400 608.200A52.400 49 0 0 0 468.100 627" stroke="#fec00f" stroke-width="10.500"/>
  </g>
  <!-- green curved arrow -->
  <path d="M514.900 583.500C527 581 532.500 570 531.900 554L525.600 554 537.900 541.900 550 553.500 543.300 554C544 572 531 584.500 514.900 583.500Z" fill="#4d9630"/>
</svg>

<!-- ===== bottom bar ===== -->
<div class="b" style="left:593px;top:663.800px;width:684px;height:31.200px;background:#5ac2d3"></div>

<svg width="1280" height="720" viewBox="0 0 1280 720" style="left:0;top:0">
<defs>
  <clipPath id="cpc"><circle cx="128.7" cy="471" r="47.5"/></clipPath>
  <linearGradient id="gold" x1="0" x2="1" y1="0" y2="0"><stop offset="0" stop-color="#ffd23d"/><stop offset=".5" stop-color="#f9b807"/><stop offset="1" stop-color="#f2a200"/></linearGradient>
  <linearGradient id="silv" x1="0" x2="0" y1="0" y2="1"><stop offset="0" stop-color="#fdfdfd"/><stop offset="1" stop-color="#a9aeb6"/></linearGradient>
  <g id="coin"><circle r="4.6" fill="#f7b80d"/><circle r="3.1" fill="#ffd84d"/></g>
  <g id="bigcoin"><circle r="7" fill="#f5ae00"/><circle r="5.2" fill="#ffd23d"/><path d="M1.8-2.2C.6-3.4-1.9-2.9-1.9-1.3C-1.9.6 1.9-.1 1.9 1.6C1.9 3.1-.8 3.4-2 2.1M0-3.8V3.8" stroke="#fff3b0" stroke-width="1.1" fill="none"/></g>
</defs>

<!-- ===== clipboard icon ===== -->
<circle cx="128.7" cy="471" r="47.5" fill="#9bc45a"/>
<g clip-path="url(#cpc)">
  <!-- sleeves -->
  <path d="M86 496h19v30H80z" fill="#1a7f93"/><path d="M97 496h8v30h-8z" fill="#11596e"/>
  <path d="M149.5 496h20.5l6 30h-26.5z" fill="#1a7f93"/><path d="M149.5 496h8v30h-8z" fill="#11596e"/>
  <rect x="86" y="489.4" width="19" height="7" fill="#f4f6f7"/><rect x="149.5" y="489.4" width="20.5" height="7" fill="#f4f6f7"/>
  <rect x="102" y="499" width="1.3" height="2.2" fill="#fff"/><rect x="102" y="503" width="1.3" height="2.2" fill="#fff"/>
  <rect x="151.5" y="499" width="1.3" height="2.2" fill="#fff"/><rect x="151.5" y="503" width="1.3" height="2.2" fill="#fff"/>
  <!-- hands -->
  <path d="M90 489.6V462c0-3 2-5 5-5.6l5-6c2-2.6 6-2.6 7 .6v38.600z" fill="#f2c095"/>
  <path d="M150 489.600V470l-6-9 1-9c4-2 8-1 10 1l12 9c3 2 5 6 5 10v17.600z" fill="#f2c095"/>
</g>
<!-- board -->
<rect x="104" y="423.3" width="44" height="58.600" rx="1.5" fill="#2f4a70"/>
<rect x="107" y="426.300" width="38" height="52.6" fill="#fff"/>
<path d="M116.300 426.800c0-2 1.700-3.600 3.700-3.600h2.200a3.900 3.900 0 0 1 7.600 0h2.200c2 0 3.800 1.600 3.800 3.600z" fill="#f6a41c"/><circle cx="126" cy="421.900" r="1.500" fill="#fff"/>
<g stroke="#2f4a70" stroke-width="2.200" stroke-linecap="round"><path d="M111 439H127M111 454.400H127M111 470H127"/></g>
<g fill="#fff" stroke="#8796ad" stroke-width=".9"><rect x="131.200" y="430" width="10.400" height="10"/><rect x="131.200" y="445.500" width="10.400" height="10"/><rect x="131.200" y="460.800" width="10.400" height="10.400"/></g>
<g fill="none" stroke="#e8484d" stroke-width="1.900" stroke-linecap="round" stroke-linejoin="round"><path d="M132.500 433.500l3.500 3.800 5.600-7M132.500 449l3.500 3.800 5.600-7"/></g>
<!-- pencil -->
<g transform="translate(141 448.300) rotate(44.300)">
  <path d="M0 0l7-3.600v7.200z" fill="#f3cfa0"/><path d="M0 0l2.600-1.300v2.600z" fill="#5a4a3a"/>
  <rect x="7" y="-3.600" width="32" height="7.200" fill="#f9b61c"/><rect x="7" y="-1.200" width="32" height="2.400" fill="#fdd04a"/>
  <rect x="39" y="-3.600" width="2.500" height="7.200" fill="#e6e6e6"/><path d="M41.500-3.600h3.500a2 2 0 0 1 2 2v3.200a2 2 0 0 1-2 2h-3.500z" fill="#ea5f4e"/>
</g>
<path d="M150 462l7-3c3-1 5 0 6 2l-8 6z" fill="#f2c095"/>

<!-- ===== header emblem ===== -->
<g>
  <circle cx="843.300" cy="81" r="14.300" fill="none" stroke="#1f7d3c" stroke-width="3.600" stroke-dasharray="2.600 1.100"/>
  <path d="M843.300 66.700a14.300 14.300 0 0 1 0 28.600" fill="none" stroke="#f3c313" stroke-width="3.600" stroke-dasharray="2.600 1.100"/>
  <circle cx="843.300" cy="81" r="11.700" fill="#e8261c"/>
  <path d="M839.500 89c-5-3-6.500-10-3-16 .5 4 2 6.500 5 8.500-2 2-2.500 4.500-2 7.500zM847.100 89c5-3 6.500-10 3-16-.5 4-2 6.500-5 8.500 2 2 2.500 4.500 2 7.500z" fill="#f0b429"/>
  <path d="M842.600 69h1.400l.5 25h-2.400z" fill="#fff"/>
  <path d="M843.300 60.300l1.100 2.500 2.700.2-2.100 1.700.7 2.600-2.400-1.500-2.400 1.500.7-2.600-2.100-1.700 2.700-.2z" fill="#d9a514"/>
  <rect x="840.600" y="66" width="5.400" height="1.700" fill="#3a2a1a"/>
  <path d="M832.500 96.500c3 4 7 4.500 10.800 1.500 3.800 3 7.800 2.500 10.800-1.500l-1.500 5.500c-3 1.500-6 1.500-9.300-.5-3.300 2-6.300 2-9.300.5z" fill="#9a9a98"/>
  <path d="M841.300 95.500l2 3.200 2-3.200-2-2.300z" fill="#c9a227"/>
</g>
<!-- ===== footer emblem (silver) ===== -->
<g>
  <circle cx="647.700" cy="556.200" r="14.200" fill="none" stroke="url(#silv)" stroke-width="3.600" stroke-dasharray="2.800 .6"/>
  <circle cx="647.700" cy="556.200" r="11.600" fill="#c3c7cd"/>
  <circle cx="647.700" cy="556.200" r="10.200" fill="#aab0b8"/>
  <path d="M643 561c-3-3-3.500-8-1-12 0 3 1.500 5 3.500 7-2 1-2.500 3-2.500 5zM652.400 561c3-3 3.500-8 1-12 0 3-1.500 5-3.500 7 2 1 2.500 3 2.500 5z" fill="#e9ebee"/>
  <path d="M647 544.500h1.400l.5 25h-2.400z" fill="#fff"/>
  <path d="M647.700 536.500l1.100 2.500 2.700.2-2.100 1.700.7 2.600-2.400-1.500-2.400 1.500.7-2.600-2.100-1.700 2.700-.2z" fill="#f4f5f6"/>
  <path d="M637 572.500c3 4 7 4.500 10.700 1.500 3.700 3 7.700 2.500 10.700-1.500l-1.500 5c-3 1.500-6 1.500-9.200-.5-3.200 2-6.200 2-9.200.5z" fill="#dfe2e6"/>
</g>

<!-- ===== coins and plants ===== -->
<g>
  <path d="M688 270c0-14 8-26 22-30 12-3 24 4 27 14l2 16z" fill="#c9edd2"/>
  <!-- tall stack -->
  <rect x="744.300" y="213" width="16.700" height="65.200" rx="1.500" fill="url(#gold)"/>
  <path d="M744.300 217.500h16.700M744.300 222h16.700M744.300 226.500h16.700M744.300 231h16.700M744.300 235.500h16.700M744.300 240h16.700M744.300 244.500h16.700M744.300 249h16.700M744.300 253.500h16.700M744.300 258h16.700M744.300 262.500h16.700M744.300 267h16.700M744.300 271.500h16.700M744.300 275.500h16.700" stroke="#e89a00" stroke-width=".9"/>
  <rect x="756.800" y="258" width="14" height="20.200" rx="1.500" fill="url(#gold)"/>
  <path d="M756.800 262.500h14M756.800 267h14M756.800 271.500h14M756.800 275.500h14" stroke="#e89a00" stroke-width=".9"/>
  <use href="#bigcoin" x="753.300" y="206"/><use href="#bigcoin" x="761.700" y="252.500"/>
  <!-- plant 3 -->
  <path d="M725 270.500V218" stroke="#2a9a48" stroke-width="1.300"/>
  <path d="M725 232c-6-5-6-14 1-21 5 8 5 15-1 21z" fill="#38b158"/>
  <path d="M725 244c-3-7-10-10-15-8 1 6 7 10 15 8zM725 247c3-7 10-10 15-8-1 6-7 10-15 8zM725 263c-4-8-12-11-18-8 2 7 9 11 18 8zM725 267c4-8 13-11 19-8-2 7-10 11-19 8z" fill="#2fa84f"/>
  <use href="#coin" x="734.600" y="233"/><use href="#coin" x="713.800" y="247"/><use href="#coin" x="735.300" y="252.500"/>
  <!-- plant 2 -->
  <path d="M695.700 270.500V231" stroke="#2a9a48" stroke-width="1.200"/>
  <path d="M695.700 242c-5-4-5-11 .5-16 4 6 4 11-.5 16z" fill="#38b158"/>
  <path d="M695.700 252c-3-6-9-8-13-6 1 5 6 8 13 6zM695.700 254c3-6 9-8 13-6-1 5-6 8-13 6zM695.700 266c-3-6-9-8-13-6 1 5 6 8 13 6zM695.700 268c3-6 10-8 14-6-1 5-7 8-14 6z" fill="#2fa84f"/>
  <use href="#coin" x="702" y="244" transform="translate(702 244) scale(.85) translate(-702 -244)"/><use href="#coin" x="688" y="254" transform="translate(688 254) scale(.85) translate(-688 -254)"/><use href="#coin" x="702.600" y="258.800" transform="translate(702.600 258.800) scale(.8) translate(-702.600 -258.800)"/>
  <!-- plant 1 -->
  <path d="M668 270.500V244" stroke="#2a9a48" stroke-width="1"/>
  <path d="M668 250c-3-2-3-6 .3-9 2 3 2 6-.3 9z" fill="#38b158"/>
  <path d="M668 258c-2-4-6-5-8-4 1 3 4 5 8 4zM668 260c2-4 6-5 8-4-1 3-4 5-8 4zM668 267c2-4 6-5 9-4-1 3-5 5-9 4z" fill="#2fa84f"/>
  <use href="#coin" x="671.400" y="251" transform="translate(671.400 251) scale(.6) translate(-671.400 -251)"/><use href="#coin" x="661.700" y="258" transform="translate(661.700 258) scale(.65) translate(-661.700 -258)"/><use href="#coin" x="672.800" y="261.500" transform="translate(672.800 261.500) scale(.6) translate(-672.800 -261.500)"/>
  <!-- piles -->
  <path d="M629 278c2-4 7-7 10-7l9 5v2.500h-19z" fill="#f6c63a"/>
  <path d="M648.500 279v-6c3-5 10-6 14-4h10.500c2 0 2 3 0 4v6z" fill="url(#gold)"/><use href="#bigcoin" x="658.500" y="272" transform="translate(658.500 272) scale(.8) translate(-658.500 -272)"/>
  <path d="M677.600 279v-6c3-5 10-6 14-4h10c2 0 2 3 0 4v6z" fill="url(#gold)"/><use href="#bigcoin" x="687.600" y="272" transform="translate(687.600 272) scale(.8) translate(-687.600 -272)"/>
  <path d="M707.500 279v-6c3-5 10-6 14-4h11c2 0 2 3 0 4v6z" fill="url(#gold)"/><use href="#bigcoin" x="717.500" y="272" transform="translate(717.500 272) scale(.8) translate(-717.500 -272)"/>
</g>

<!-- ===== bottom bar icons ===== -->
<path d="M651.500 675.800C662 668.500 676 665.500 685 668.500C691 670.500 693.500 675 692.300 680C691.500 674 688 671 682 670.200C673 669 661 671.500 651.500 675.800Z" fill="#c9de3c"/>
<!-- facebook -->
<path d="M736.200 675h8.400a1.800 1.800 0 0 1 1.800 1.800v8.400a1.800 1.800 0 0 1-1.800 1.800h-2v-4.500h1.600l.3-1.900h-1.900v-1.200c0-.6.300-1 1-1h1v-1.700c-.5-.1-1-.1-1.500-.1-1.600 0-2.600 1-2.600 2.700v1.300h-1.700v1.900h1.700V687h-4.300a1.800 1.800 0 0 1-1.800-1.800v-8.400a1.800 1.800 0 0 1 1.800-1.800z" fill="#fff"/>
<!-- instagram -->
<rect x="817" y="675.600" width="10.800" height="10.800" rx="3" fill="none" stroke="#fff" stroke-width="1.300"/><circle cx="822.400" cy="681" r="2.600" fill="none" stroke="#fff" stroke-width="1.300"/><circle cx="825.500" cy="677.900" r=".8" fill="#fff"/>
<!-- twitter -->
<rect x="898.400" y="675" width="12" height="12" rx="2.200" fill="#fff"/>
<path d="M908.500 678.600c-.4.200-.8.300-1.200.4.400-.300.700-.7.900-1.200-.4.200-.9.400-1.400.5a2.100 2.100 0 0 0-3.600 1.900c-1.700-.1-3.300-.9-4.300-2.200-.6 1-.3 2.200.6 2.800-.3 0-.7-.1-.9-.3 0 1 .7 1.900 1.700 2.100-.3.100-.6.100-.9 0 .3.900 1.100 1.500 2 1.500-.9.700-2 1-3.100.9 2.900 1.800 7.700.7 8.600-4.800v-.6c.4-.3.800-.7 1-1.100z" fill="#59c3d2"/>
<!-- youtube -->
<rect x="983" y="675.800" width="14" height="10.400" rx="3" fill="#fff"/><path d="M988.500 678.600v4.800l4.200-2.400z" fill="#59c3d2"/>
<!-- globe -->
<g fill="none" stroke="#fff" stroke-width="1"><circle cx="1069.800" cy="680.300" r="6.700"/><ellipse cx="1069.800" cy="680.300" rx="3.200" ry="6.700"/><path d="M1063.100 680.300h13.400M1064.100 677h11.400M1064.100 683.600h11.400M1069.800 673.600v13.400"/></g>
</svg>

<span class="t" style="left:39.25px;top:24.73px;font-size:28.55px;color:#159a96;font-weight:700;transform:scaleX(0.9188);">DATA</span>
<span class="t" style="left:46.35px;top:62.53px;font-size:28.34px;color:#159a96;font-weight:700;transform:scaleX(1.0172);">IZIN</span>
<span class="t" style="left:135.17px;top:73.27px;font-size:20.73px;color:#0a0a0a;transform:scaleX(0.9691);">IZIN USAHA</span>
<span class="t" style="left:283.84px;top:74.98px;font-size:14.07px;color:#fff;transform:scaleX(0.9635);">IZIN NON USAHA</span>
<span class="t" style="left:171.55px;top:113.96px;font-size:17.83px;color:#000;font-weight:700;transform:scaleX(0.9640);">NIB</span>
<span class="t" style="left:58.06px;top:168.69px;font-size:30.51px;color:#000;font-weight:700;transform:scaleX(0.9351);">2021</span>
<span class="t" style="left:59.99px;top:258.08px;font-size:28.26px;color:#000;font-weight:700;transform:scaleX(1.0140);">2022</span>
<span class="t" style="left:57.14px;top:341.83px;font-size:28.55px;color:#000;font-weight:700;transform:scaleX(1.0114);">2023</span>
<span class="t" style="left:158.39px;top:178.65px;font-size:18.41px;color:#a6a6a6;font-weight:700;transform:scaleX(1.0782);">12.963</span>
<span class="t" style="left:156.53px;top:257.72px;font-size:20.58px;color:#a6a6a6;font-weight:700;transform:scaleX(1.0376);">38.944</span>
<span class="t" style="left:158.41px;top:348.27px;font-size:22.76px;color:#f06423;font-weight:700;transform:scaleX(1.1097);">58.016</span>
<span class="t" style="left:323.32px;top:165.01px;font-size:17.18px;color:#a6a6a6;transform:scaleX(1.0232);">1009</span>
<span class="t" style="left:329.49px;top:250.01px;font-size:17.18px;color:#a6a6a6;transform:scaleX(1.0140);">887</span>
<span class="t" style="left:327.93px;top:348.59px;font-size:18.84px;color:#000;transform:scaleX(1.0678);">671</span>
<span class="t" style="left:487.50px;top:11.08px;font-size:28.26px;color:#14a5eb;font-weight:700;transform:scaleX(0.9839);">TRIWULAN II - 2023</span>
<span class="t" style="left:438.14px;top:40.71px;font-size:80.58px;color:#0f8a8c;transform:scaleX(0.9006);">N</span>
<span class="t" style="left:495.41px;top:40.71px;font-size:80.58px;color:#0b2468;transform:scaleX(0.9000);">U</span>
<span class="t" style="left:551.54px;top:40.71px;font-size:80.58px;color:#0b2468;transform:scaleX(1.0614);">M</span>
<span class="t" style="left:625.46px;top:40.71px;font-size:80.58px;color:#10908c;transform:scaleX(0.8140);">B</span>
<span class="t" style="left:672.04px;top:40.71px;font-size:80.58px;color:#0b2468;transform:scaleX(0.6857);">E</span>
<span class="t" style="left:714.14px;top:40.71px;font-size:80.58px;color:#0b2468;transform:scaleX(0.7480);">R</span>
<span class="t" style="left:756.48px;top:40.71px;font-size:80.58px;color:#0b2468;transform:scaleX(0.7373);">S</span>
<span class="t" style="left:865.23px;top:61.66px;font-size:37.07px;color:#2a55b8;font-weight:700;transform:scaleX(0.9898);background:linear-gradient(#a6d2f3 14%,#5a9ee6 36%,#2560c8 58%,#16349c 86%);-webkit-background-clip:text;background-clip:text;-webkit-text-fill-color:transparent;-webkit-text-stroke:.9px transparent;">DPMPTSP DIY</span>
<span class="t" style="left:867.26px;top:97.41px;font-size:9.64px;color:#1c2c7c;font-weight:700;transform:scaleX(0.7524);">DINAS PENANAMAN MODAL DAN PELAYANAN TERPADU SATU PINTU</span>
<span class="t" style="left:607.35px;top:154.99px;font-size:18.84px;color:#fff;transform:scaleX(1.0585);">Realisasi</span>
<span class="t" style="left:605.75px;top:178.78px;font-size:20.00px;color:#fff;transform:scaleX(1.0565);">Investasi</span>
<span class="t" style="left:619.67px;top:210.19px;font-size:35.07px;color:#fff;transform:scaleX(0.9388);">DIY</span>
<span class="t" style="left:757.99px;top:173.44px;font-size:19.13px;color:#fff;transform:scaleX(1.0208);">TAHUN</span>
<span class="t" style="left:827.52px;top:167.09px;font-size:27.54px;color:#fff;transform:scaleX(0.9804);">2022</span>
<span class="t" style="left:918.06px;top:158.24px;font-size:36.31px;color:#e8fb3a;transform:scaleX(0.9554);">Rp 3.9 T</span>
<span class="t" style="left:733.86px;top:297.79px;font-size:21.30px;color:#fff;transform:scaleX(0.9385);">Rp. 3.08 T</span>
<span class="t" style="left:896.51px;top:255.27px;font-size:22.03px;color:#2fc468;transform:scaleX(0.9898);">Rp. 3.9 T</span>
<span class="t" style="left:766.13px;top:335.28px;font-size:14.07px;color:#000;transform:scaleX(1.0320);">317.6 M</span>
<span class="t" style="left:933.99px;top:324.02px;font-size:18.56px;color:#000;transform:scaleX(0.9802);">1.6 T</span>
<span class="t" style="left:746.57px;top:415.74px;font-size:14.79px;color:#000;transform:scaleX(0.8969);">2.8 T</span>
<span class="t" style="left:904.57px;top:415.74px;font-size:14.79px;color:#000;transform:scaleX(0.8969);">2.3 T</span>
<span class="t" style="left:1018.75px;top:298.73px;font-size:15.73px;color:#1ea9ea;transform:scaleX(0.9952);">PMA</span>
<span class="t" style="left:1018.47px;top:325.54px;font-size:15.73px;color:#1ea9ea;transform:scaleX(1.0203);">PMDN</span>
<span class="t" style="left:757.35px;top:472.52px;font-size:19.86px;color:#d5d9e6;font-weight:700;transform:scaleX(1.0070);">2021</span>
<span class="t" style="left:918.50px;top:472.52px;font-size:19.86px;color:#92d050;font-weight:700;transform:scaleX(1.0058);">2022</span>
<span class="t" style="left:850.71px;top:549.89px;font-size:21.30px;color:#fff;font-weight:700;transform:scaleX(0.9529);">Naik</span>
<span class="t" style="left:898.92px;top:544.48px;font-size:28.26px;color:#fff;font-weight:700;transform:scaleX(0.9307);">27 %</span>
<span class="t" style="left:968.64px;top:548.36px;font-size:18.87px;color:#14b050;font-weight:700;transform:scaleX(1.0321);">y - o - y</span>
<span class="t" style="left:668.77px;top:546.58px;font-size:21.38px;color:#d8d8d8;font-weight:700;transform:scaleX(0.9053);background:linear-gradient(#ffffff 15%,#cfcfcf 55%,#8f8f8f 95%);-webkit-background-clip:text;background-clip:text;-webkit-text-fill-color:transparent;-webkit-text-stroke:.7px transparent;">DPMPTSP DIY</span>
<span class="t" style="left:668.04px;top:566.79px;font-size:5.07px;color:#e6e6e6;font-weight:700;transform:scaleX(0.7631);">DINAS PENANAMAN MODAL DAN PELAYANAN TERPADU SATU PINTU</span>
<span class="t" style="left:1106.72px;top:158.72px;font-size:20.58px;color:#fff;transform:scaleX(0.9533);">TAHUN</span>
<span class="t" style="left:1177.48px;top:154.35px;font-size:26.53px;color:#fff;transform:scaleX(1.0212);">2023</span>
<span class="t" style="left:1122.52px;top:186.28px;font-size:20.00px;color:#0a0a0a;transform:scaleX(0.8953);">SEMESTER I</span>
<span class="t" style="left:1121.64px;top:240.83px;font-size:19.86px;color:#000;font-weight:700;transform:scaleX(1.0011);">Naik</span>
<span class="t" style="left:1169.65px;top:235.71px;font-size:26.81px;color:#000;font-weight:700;transform:scaleX(0.9719);">16 %</span>
<span class="t" style="left:1142.19px;top:260.82px;font-size:18.21px;color:#000;font-weight:700;transform:scaleX(1.0545);">y - o - y</span>
<span class="t" style="left:1102.89px;top:291.25px;font-size:13.34px;color:#000;font-weight:700;transform:scaleX(0.9978);">(Semester I 2022: 1.3 T)</span>
<span class="t" style="left:1124.82px;top:334.12px;font-size:21.74px;color:#e8fb3a;transform:scaleX(0.9884);">Rp. 1.84 T</span>
<span class="t" style="left:1160.00px;top:374.86px;font-size:14.28px;color:#000;transform:scaleX(1.0012);">325 M</span>
<span class="t" style="left:1163.73px;top:425.05px;font-size:14.79px;color:#000;transform:scaleX(0.8860);">1.5 T</span>
<span class="t" style="left:1148.67px;top:473.83px;font-size:26.09px;color:#000;font-weight:700;transform:scaleX(1.0382);">2023</span>
<span class="t" style="left:1160.45px;top:534.77px;font-size:15.44px;color:#000;transform:scaleX(1.0434);">PMA</span>
<span class="t" style="left:1160.45px;top:562.23px;font-size:15.73px;color:#000;transform:scaleX(1.0386);">PMDN</span>
<span class="t" style="left:196.86px;top:408.54px;font-size:16.89px;color:#000;transform:scaleX(1.0937);">NILAI</span>
<span class="t" style="left:196.93px;top:432.92px;font-size:17.25px;color:#1b7a1f;font-weight:700;transform:scaleX(0.8987);"><span style="font-size:1.235em">I</span>NDEKS <span style="font-size:1.235em">K</span>EPUASAN <span style="font-size:1.235em">M</span>ASYARAKAT</span>
<span class="t" style="left:484.08px;top:424.69px;font-size:29.79px;color:#1b7a1f;font-weight:700;transform:scaleX(1.0271);">IKM</span>
<span class="t" style="left:504.96px;top:480.74px;font-size:18.41px;color:#17878a;font-weight:700;transform:scaleX(1.1397);">2022</span>
<span class="t" style="left:509.60px;top:512.72px;font-size:19.28px;color:#14236b;transform:scaleX(1.0024);">BAIK</span>
<span class="t" style="left:224.48px;top:553.25px;font-size:20.29px;color:#17878a;font-weight:700;transform:scaleX(1.0309);">2021</span>
<span class="t" style="left:227.22px;top:588.91px;font-size:20.58px;color:#14236b;transform:scaleX(0.9578);">BAIK</span>
<span class="t" style="left:398.40px;top:514.22px;font-size:28.34px;color:#a6a6a6;font-weight:700;transform:scaleX(0.9922);">87.84%</span>
<span class="t" style="left:304.16px;top:571.54px;font-size:16.89px;color:#a6a6a6;font-weight:700;transform:scaleX(0.9934);">87.53 %</span>
<span class="t" style="left:472.99px;top:646.11px;font-size:29.06px;color:#0a3296;font-weight:700;transform:scaleX(1.0044);">88.76</span>
<span class="t" style="left:241.99px;top:658.00px;font-size:20.00px;color:#e01a1a;transform:scaleX(1.0200);">TRIWULAN II –</span>
<span class="t" style="left:389.48px;top:655.06px;font-size:24.64px;color:#e01a1a;transform:scaleX(1.0152);">2023</span>
<span class="t" style="left:268.46px;top:686.02px;font-size:16.45px;color:#e01a1a;transform:scaleX(1.0290);">Nilai Rata-Rata IKM</span>
<span class="t" style="left:632.55px;top:677.36px;font-size:11.02px;color:#fff;transform:scaleX(1.1042);font-family:'DejaVu Sans',sans-serif;font-weight:200;-webkit-text-stroke:.25px #fff;">JOGJA INVEST</span>
<span class="t" style="left:751.39px;top:674.75px;font-size:11.82px;color:#fff;font-weight:700;transform:scaleX(0.8060);">Jogja Invest</span>
<span class="t" style="left:833.30px;top:674.75px;font-size:11.82px;color:#fff;font-weight:700;transform:scaleX(0.8280);">jogja_invest</span>
<span class="t" style="left:915.91px;top:674.75px;font-size:11.82px;color:#fff;font-weight:700;transform:scaleX(0.7894);">@jogjainvest</span>
<span class="t" style="left:1000.39px;top:674.75px;font-size:11.82px;color:#fff;font-weight:700;transform:scaleX(0.8060);">Jogja Invest</span>
<span class="t" style="left:1079.60px;top:674.75px;font-size:11.82px;color:#fff;font-weight:700;transform:scaleX(0.8581);">https://jogjainvest.jogjaprov.go.id/web/</span>
</div>
</body></html>
